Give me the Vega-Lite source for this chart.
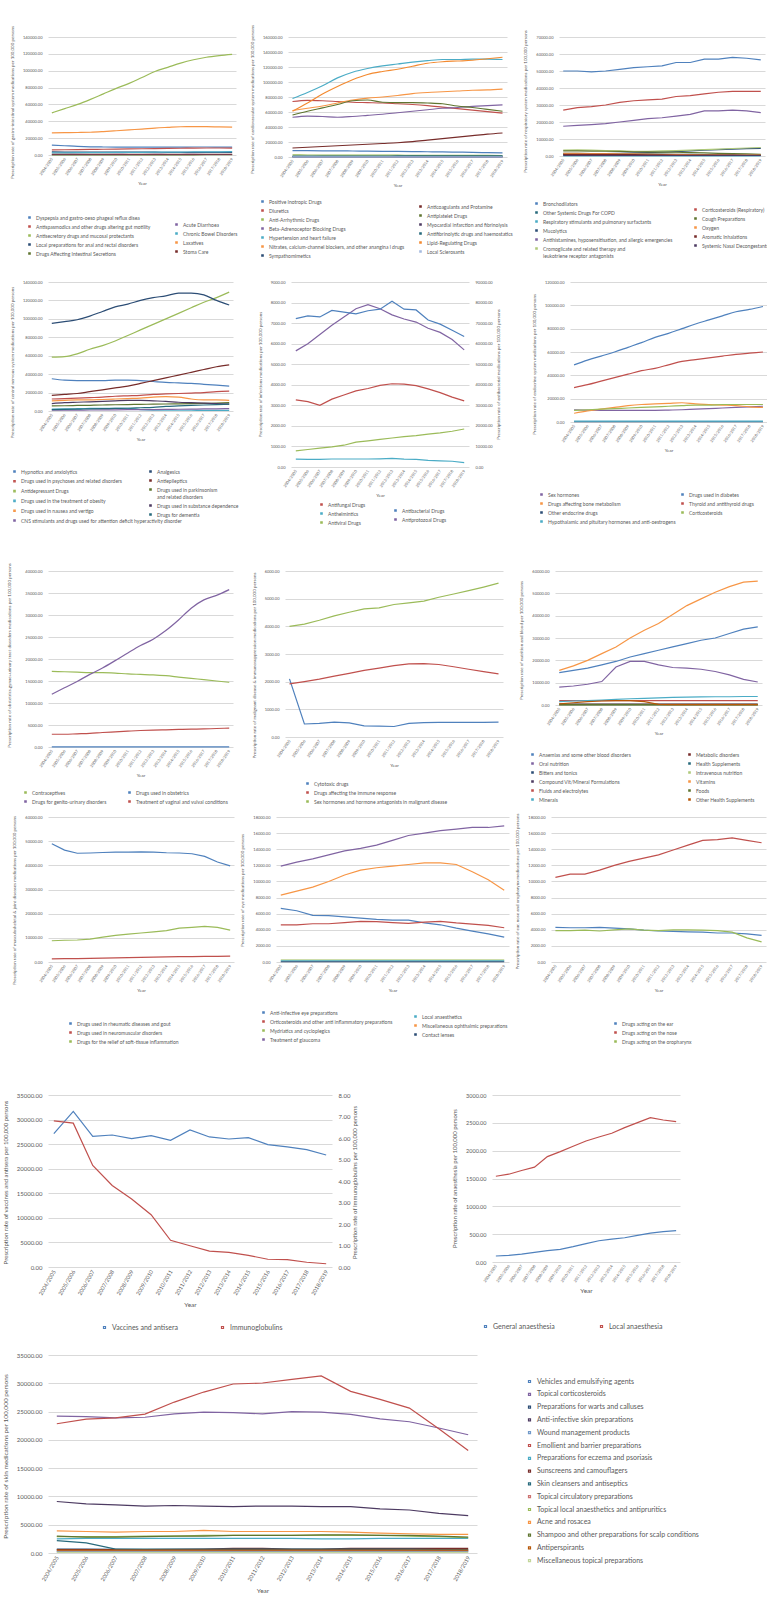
{
"$schema":"https://vega.github.io/schema/vega-lite/v6.json",
"background":"white",
"padding":{"left":2,"top":24,"right":0,"bottom":0},
"spacing":21,
"resolve":{"scale":{"color":"independent","stroke":"independent","x":"independent","y":"independent"}},
"config":{
 "font":"Lato",
 "view":{"stroke":null},
 "axis":{"labelFont":"Lato","labelFontSize":4,"labelColor":"#595959","titleFont":"Lato","titleFontSize":4.5,"titleFontWeight":"normal","titleColor":"#595959","ticks":false,"domain":false},
 "axisY":{"grid":true,"gridColor":"#D9D9D9","gridWidth":1.2,"labelPadding":6,"titlePadding":8},
 "axisX":{"grid":false,"labelAngle":-55,"labelPadding":3,"titlePadding":5},
 "legend":{"labelFont":"Lato","labelFontSize":5,"labelColor":"#595959","rowPadding":2,"symbolSize":2,"symbolStrokeWidth":3,"labelOffset":4,"padding":0,"labelLimit":400,"direction":"vertical"},
 "line":{"strokeWidth":1.2}
},
"datasets":{
"nm":[
{"k":"a1","n":"Dyspepsia and gastro-oeso  phageal reflux disea"},{"k":"a2","n":"Antispasmodics and other drugs altering gut motility"},{"k":"a3","n":"Antisecretory drugs and mucosal protectants"},{"k":"a4","n":"Local preparations for anal and rectal disorders"},{"k":"a5","n":"Drugs Affecting Intestinal Secretions"},{"k":"a6","n":"Acute Diarrhoea"},{"k":"a7","n":"Chronic Bowel Disorders"},{"k":"a8","n":"Laxatives"},{"k":"a9","n":"Stoma Care"},
{"k":"b1","n":"Positive Inotropic Drugs"},{"k":"b2","n":"Diuretics"},{"k":"b3","n":"Anti-Arrhythmic Drugs"},{"k":"b4","n":"Beta-Adrenoceptor Blocking Drugs"},{"k":"b5","n":"Hypertension and heart failure"},{"k":"b6","n":"Nitrates, calcium-channel blockers, and other anangina l drugs"},{"k":"b7","n":"Sympathomimetics"},{"k":"b8","n":"Anticoagulants and Protamine"},{"k":"b9","n":"Antiplatelet Drugs"},{"k":"b10","n":"Myocardial infarction and fibrinolysis"},{"k":"b11","n":"Antifibrinolytic drugs and haemostatics"},{"k":"b12","n":"Lipid-Regulating Drugs"},{"k":"b13","n":"Local Sclerosants"},
{"k":"c1","n":"Bronchodilators"},{"k":"c2","n":"Other Systemic Drugs For COPD"},{"k":"c3","n":"Respiratory stimulants and pulmonary surfactants"},{"k":"c4","n":"Mucolytics"},{"k":"c5","n":"Antihistamines, hyposensitisation, and allergic  emergencies"},{"k":"c6","n":"Cromoglicate and related therapy and leukotriene receptor antagonists"},{"k":"c7","n":"Corticosteroids (Respiratory)"},{"k":"c8","n":"Cough Preparations"},{"k":"c9","n":"Oxygen"},{"k":"c10","n":"Aromatic Inhalations"},{"k":"c11","n":"Systemic Nasal Decongestants"},
{"k":"d1","n":"Hypnotics and anxiolytics"},{"k":"d2","n":"Drugs used in psychoses and related disorders"},{"k":"d3","n":"Antidepressant Drugs"},{"k":"d4","n":"Drugs used in the treatment of obesity"},{"k":"d5","n":"Drugs used in nausea and vertigo"},{"k":"d6","n":"CNS stimulants and drugs used for attention deficit hyperactivity disorder"},{"k":"d7","n":"Analgesics"},{"k":"d8","n":"Antiepileptics"},{"k":"d9","n":"Drugs used in parkinsonism and related disorders"},{"k":"d10","n":"Drugs used in substance dependence"},{"k":"d11","n":"Drugs for dementia"},
{"k":"e1","n":"Antifungal Drugs"},{"k":"e2","n":"Anthelmintics"},{"k":"e3","n":"Antiviral Drugs"},{"k":"e4","n":"Antibacterial Drugs"},{"k":"e5","n":"Antiprotozoal Drugs"},
{"k":"f1","n":"Sex hormones"},{"k":"f2","n":"Drugs affecting bone metabolism"},{"k":"f3","n":"Other endocrine drugs"},{"k":"f4","n":"Hypothalamic and pituitary hormones and anti-oestrogens"},{"k":"f5","n":"Drugs used in diabetes"},{"k":"f6","n":"Thyroid and antithyroid drugs"},{"k":"f7","n":"Corticosteroids"},
{"k":"g1","n":"Contraceptives"},{"k":"g2","n":"Drugs for genito-urinary disorders"},{"k":"g3","n":"Drugs used in obstetrics"},{"k":"g4","n":"Treatment of vaginal and vulval conditions"},
{"k":"h1","n":"Cytotoxic drugs"},{"k":"h2","n":"Drugs affecting the immune response"},{"k":"h3","n":"Sex hormones and hormone antagonists in malignant disease"},
{"k":"i1","n":"Anaemias and some other blood disorders"},{"k":"i2","n":"Oral nutrition"},{"k":"i3","n":"Bitters and tonics"},{"k":"i4","n":"Compound Vit/Mineral Formulations"},{"k":"i5","n":"Fluids and electrolytes"},{"k":"i6","n":"Minerals"},{"k":"i7","n":"Metabolic disorders"},{"k":"i8","n":"Health Supplements"},{"k":"i9","n":"Intravenous nutrition"},{"k":"i10","n":"Vitamins"},{"k":"i11","n":"Foods"},{"k":"i12","n":"Other Health Supplements"},
{"k":"j1","n":"Drugs used in rheumatic diseases and gout"},{"k":"j2","n":"Drugs used in neuromuscular disorders"},{"k":"j3","n":"Drugs for the relief of soft-tissue inflammation"},
{"k":"k1","n":"Anti-infective eye preparations"},{"k":"k2","n":"Orticosteroids and other anti inflammatory preparations"},{"k":"k3","n":"Mydriatics and cycloplegics"},{"k":"k4","n":"Treatment of glaucoma"},{"k":"k5","n":"Local anaesthetics"},{"k":"k6","n":"Miscellaneous ophthalmic preparations"},{"k":"k7","n":"Contact lenses"},
{"k":"l1","n":"Drugs acting on the ear"},{"k":"l2","n":"Drugs acting on the nose"},{"k":"l3","n":"Drugs acting on the oropharynx"},
{"k":"m1","n":"Vaccines and antisera"},{"k":"m2","n":"Immunoglobulins"},
{"k":"n1","n":"General anaesthesia"},{"k":"n2","n":"Local anaesthesia"},
{"k":"o1","n":"Vehicles and emulsifying agents"},{"k":"o2","n":"Topical corticosteroids"},{"k":"o3","n":"Preparations for warts and calluses"},{"k":"o4","n":"Anti-infective skin preparations"},{"k":"o5","n":"Wound management products"},{"k":"o6","n":"Emollient and barrier preparations"},{"k":"o7","n":"Preparations for eczema and psoriasis"},{"k":"o8","n":"Sunscreens and camouflagers"},{"k":"o9","n":"Skin cleansers and antiseptics"},{"k":"o10","n":"Topical circulatory preparations"},{"k":"o11","n":"Topical local anaesthetics and antipruritics"},{"k":"o12","n":"Acne and rosacea"},{"k":"o13","n":"Shampoo and other preparations for scalp conditions"},{"k":"o14","n":"Antiperspirants"},{"k":"o15","n":"Miscellaneous topical preparations"}
],
"a":[
{"k":"a1","t":2004,"v":11800},{"k":"a1","t":2005,"v":11000},{"k":"a1","t":2006,"v":10200},{"k":"a1","t":2007,"v":9700},{"k":"a1","t":2008,"v":9500},{"k":"a1","t":2009,"v":9400},{"k":"a1","t":2010,"v":9300},{"k":"a1","t":2011,"v":9300},{"k":"a1","t":2012,"v":9300},{"k":"a1","t":2013,"v":9400},{"k":"a1","t":2014,"v":9400},{"k":"a1","t":2015,"v":9500},{"k":"a1","t":2016,"v":9500},{"k":"a1","t":2017,"v":9400},{"k":"a1","t":2018,"v":9300},
{"k":"a2","t":2004,"v":6000},{"k":"a2","t":2005,"v":6200},{"k":"a2","t":2006,"v":6400},{"k":"a2","t":2007,"v":6600},{"k":"a2","t":2008,"v":6800},{"k":"a2","t":2009,"v":7000},{"k":"a2","t":2010,"v":7200},{"k":"a2","t":2011,"v":7400},{"k":"a2","t":2012,"v":7600},{"k":"a2","t":2013,"v":7800},{"k":"a2","t":2014,"v":8000},{"k":"a2","t":2015,"v":8200},{"k":"a2","t":2016,"v":8300},{"k":"a2","t":2017,"v":8300},{"k":"a2","t":2018,"v":8200},
{"k":"a3","t":2004,"v":50000},{"k":"a3","t":2005,"v":55000},{"k":"a3","t":2006,"v":60000},{"k":"a3","t":2007,"v":66000},{"k":"a3","t":2008,"v":72500},{"k":"a3","t":2009,"v":79000},{"k":"a3","t":2010,"v":85000},{"k":"a3","t":2011,"v":92000},{"k":"a3","t":2012,"v":99000},{"k":"a3","t":2013,"v":104000},{"k":"a3","t":2014,"v":109000},{"k":"a3","t":2015,"v":113000},{"k":"a3","t":2016,"v":116000},{"k":"a3","t":2017,"v":118000},{"k":"a3","t":2018,"v":119500},
{"k":"a4","t":2004,"v":3600},{"k":"a4","t":2005,"v":3500},{"k":"a4","t":2006,"v":3500},{"k":"a4","t":2007,"v":3400},{"k":"a4","t":2008,"v":3400},{"k":"a4","t":2009,"v":3400},{"k":"a4","t":2010,"v":3300},{"k":"a4","t":2011,"v":3300},{"k":"a4","t":2012,"v":3300},{"k":"a4","t":2013,"v":3200},{"k":"a4","t":2014,"v":3200},{"k":"a4","t":2015,"v":3200},{"k":"a4","t":2016,"v":3100},{"k":"a4","t":2017,"v":3100},{"k":"a4","t":2018,"v":3000},
{"k":"a5","t":2004,"v":150},{"k":"a5","t":2005,"v":150},{"k":"a5","t":2006,"v":150},{"k":"a5","t":2007,"v":150},{"k":"a5","t":2008,"v":150},{"k":"a5","t":2009,"v":150},{"k":"a5","t":2010,"v":150},{"k":"a5","t":2011,"v":160},{"k":"a5","t":2012,"v":170},{"k":"a5","t":2013,"v":180},{"k":"a5","t":2014,"v":200},{"k":"a5","t":2015,"v":250},{"k":"a5","t":2016,"v":300},{"k":"a5","t":2017,"v":350},{"k":"a5","t":2018,"v":400},
{"k":"a6","t":2004,"v":600},{"k":"a6","t":2005,"v":600},{"k":"a6","t":2006,"v":650},{"k":"a6","t":2007,"v":600},{"k":"a6","t":2008,"v":600},{"k":"a6","t":2009,"v":650},{"k":"a6","t":2010,"v":600},{"k":"a6","t":2011,"v":600},{"k":"a6","t":2012,"v":650},{"k":"a6","t":2013,"v":600},{"k":"a6","t":2014,"v":600},{"k":"a6","t":2015,"v":650},{"k":"a6","t":2016,"v":600},{"k":"a6","t":2017,"v":600},{"k":"a6","t":2018,"v":600},
{"k":"a7","t":2004,"v":2500},{"k":"a7","t":2005,"v":2600},{"k":"a7","t":2006,"v":2700},{"k":"a7","t":2007,"v":2800},{"k":"a7","t":2008,"v":2900},{"k":"a7","t":2009,"v":3000},{"k":"a7","t":2010,"v":3100},{"k":"a7","t":2011,"v":3200},{"k":"a7","t":2012,"v":3300},{"k":"a7","t":2013,"v":3400},{"k":"a7","t":2014,"v":3500},{"k":"a7","t":2015,"v":3600},{"k":"a7","t":2016,"v":3700},{"k":"a7","t":2017,"v":3800},{"k":"a7","t":2018,"v":3900},
{"k":"a8","t":2004,"v":26300},{"k":"a8","t":2005,"v":26500},{"k":"a8","t":2006,"v":26700},{"k":"a8","t":2007,"v":27000},{"k":"a8","t":2008,"v":27800},{"k":"a8","t":2009,"v":28800},{"k":"a8","t":2010,"v":29800},{"k":"a8","t":2011,"v":30800},{"k":"a8","t":2012,"v":32000},{"k":"a8","t":2013,"v":32800},{"k":"a8","t":2014,"v":33500},{"k":"a8","t":2015,"v":33600},{"k":"a8","t":2016,"v":33700},{"k":"a8","t":2017,"v":33300},{"k":"a8","t":2018,"v":33000},
{"k":"a9","t":2004,"v":900},{"k":"a9","t":2005,"v":900},{"k":"a9","t":2006,"v":900},{"k":"a9","t":2007,"v":900},{"k":"a9","t":2008,"v":900},{"k":"a9","t":2009,"v":900},{"k":"a9","t":2010,"v":900},{"k":"a9","t":2011,"v":900},{"k":"a9","t":2012,"v":900},{"k":"a9","t":2013,"v":900},{"k":"a9","t":2014,"v":900},{"k":"a9","t":2015,"v":900},{"k":"a9","t":2016,"v":900},{"k":"a9","t":2017,"v":900},{"k":"a9","t":2018,"v":900}
],
"b":[
{"k":"b1","t":2004,"v":8500},{"k":"b1","t":2005,"v":8400},{"k":"b1","t":2006,"v":8300},{"k":"b1","t":2007,"v":8200},{"k":"b1","t":2008,"v":8000},{"k":"b1","t":2009,"v":7800},{"k":"b1","t":2010,"v":7600},{"k":"b1","t":2011,"v":7400},{"k":"b1","t":2012,"v":7200},{"k":"b1","t":2013,"v":7000},{"k":"b1","t":2014,"v":6800},{"k":"b1","t":2015,"v":6500},{"k":"b1","t":2016,"v":6200},{"k":"b1","t":2017,"v":5800},{"k":"b1","t":2018,"v":5400},
{"k":"b2","t":2004,"v":74000},{"k":"b2","t":2005,"v":75500},{"k":"b2","t":2006,"v":75000},{"k":"b2","t":2007,"v":74000},{"k":"b2","t":2008,"v":73000},{"k":"b2","t":2009,"v":72500},{"k":"b2","t":2010,"v":72000},{"k":"b2","t":2011,"v":71000},{"k":"b2","t":2012,"v":70000},{"k":"b2","t":2013,"v":68500},{"k":"b2","t":2014,"v":66500},{"k":"b2","t":2015,"v":64500},{"k":"b2","t":2016,"v":62500},{"k":"b2","t":2017,"v":60500},{"k":"b2","t":2018,"v":58500},
{"k":"b3","t":2004,"v":2800},{"k":"b3","t":2005,"v":2700},{"k":"b3","t":2006,"v":2600},{"k":"b3","t":2007,"v":2600},{"k":"b3","t":2008,"v":2500},{"k":"b3","t":2009,"v":2500},{"k":"b3","t":2010,"v":2400},{"k":"b3","t":2011,"v":2400},{"k":"b3","t":2012,"v":2300},{"k":"b3","t":2013,"v":2300},{"k":"b3","t":2014,"v":2200},{"k":"b3","t":2015,"v":2200},{"k":"b3","t":2016,"v":2100},{"k":"b3","t":2017,"v":2100},{"k":"b3","t":2018,"v":2000},
{"k":"b4","t":2004,"v":53000},{"k":"b4","t":2005,"v":54500},{"k":"b4","t":2006,"v":54000},{"k":"b4","t":2007,"v":53000},{"k":"b4","t":2008,"v":54000},{"k":"b4","t":2009,"v":55500},{"k":"b4","t":2010,"v":57000},{"k":"b4","t":2011,"v":59000},{"k":"b4","t":2012,"v":61000},{"k":"b4","t":2013,"v":63000},{"k":"b4","t":2014,"v":65000},{"k":"b4","t":2015,"v":66000},{"k":"b4","t":2016,"v":67500},{"k":"b4","t":2017,"v":68500},{"k":"b4","t":2018,"v":69500},
{"k":"b5","t":2004,"v":78000},{"k":"b5","t":2005,"v":86000},{"k":"b5","t":2006,"v":95000},{"k":"b5","t":2007,"v":105500},{"k":"b5","t":2008,"v":113000},{"k":"b5","t":2009,"v":118000},{"k":"b5","t":2010,"v":121500},{"k":"b5","t":2011,"v":124000},{"k":"b5","t":2012,"v":126500},{"k":"b5","t":2013,"v":128500},{"k":"b5","t":2014,"v":130000},{"k":"b5","t":2015,"v":130000},{"k":"b5","t":2016,"v":130500},{"k":"b5","t":2017,"v":130500},{"k":"b5","t":2018,"v":130000},
{"k":"b6","t":2004,"v":62000},{"k":"b6","t":2005,"v":65000},{"k":"b6","t":2006,"v":68000},{"k":"b6","t":2007,"v":72000},{"k":"b6","t":2008,"v":76000},{"k":"b6","t":2009,"v":78500},{"k":"b6","t":2010,"v":80000},{"k":"b6","t":2011,"v":82000},{"k":"b6","t":2012,"v":84500},{"k":"b6","t":2013,"v":86000},{"k":"b6","t":2014,"v":87000},{"k":"b6","t":2015,"v":88000},{"k":"b6","t":2016,"v":89000},{"k":"b6","t":2017,"v":89500},{"k":"b6","t":2018,"v":90500},
{"k":"b7","t":2004,"v":400},{"k":"b7","t":2005,"v":400},{"k":"b7","t":2006,"v":400},{"k":"b7","t":2007,"v":400},{"k":"b7","t":2008,"v":400},{"k":"b7","t":2009,"v":400},{"k":"b7","t":2010,"v":400},{"k":"b7","t":2011,"v":400},{"k":"b7","t":2012,"v":400},{"k":"b7","t":2013,"v":400},{"k":"b7","t":2014,"v":400},{"k":"b7","t":2015,"v":400},{"k":"b7","t":2016,"v":400},{"k":"b7","t":2017,"v":400},{"k":"b7","t":2018,"v":400},
{"k":"b8","t":2004,"v":12000},{"k":"b8","t":2005,"v":13000},{"k":"b8","t":2006,"v":14000},{"k":"b8","t":2007,"v":15000},{"k":"b8","t":2008,"v":16000},{"k":"b8","t":2009,"v":17000},{"k":"b8","t":2010,"v":18000},{"k":"b8","t":2011,"v":19000},{"k":"b8","t":2012,"v":20500},{"k":"b8","t":2013,"v":22500},{"k":"b8","t":2014,"v":24500},{"k":"b8","t":2015,"v":26500},{"k":"b8","t":2016,"v":28500},{"k":"b8","t":2017,"v":30500},{"k":"b8","t":2018,"v":32000},
{"k":"b9","t":2004,"v":56000},{"k":"b9","t":2005,"v":61000},{"k":"b9","t":2006,"v":65500},{"k":"b9","t":2007,"v":70000},{"k":"b9","t":2008,"v":75000},{"k":"b9","t":2009,"v":76000},{"k":"b9","t":2010,"v":73000},{"k":"b9","t":2011,"v":72500},{"k":"b9","t":2012,"v":72500},{"k":"b9","t":2013,"v":72000},{"k":"b9","t":2014,"v":71000},{"k":"b9","t":2015,"v":68000},{"k":"b9","t":2016,"v":66000},{"k":"b9","t":2017,"v":63500},{"k":"b9","t":2018,"v":61000},
{"k":"b10","t":2004,"v":100},{"k":"b10","t":2005,"v":100},{"k":"b10","t":2006,"v":100},{"k":"b10","t":2007,"v":100},{"k":"b10","t":2008,"v":100},{"k":"b10","t":2009,"v":100},{"k":"b10","t":2010,"v":100},{"k":"b10","t":2011,"v":100},{"k":"b10","t":2012,"v":100},{"k":"b10","t":2013,"v":100},{"k":"b10","t":2014,"v":100},{"k":"b10","t":2015,"v":100},{"k":"b10","t":2016,"v":100},{"k":"b10","t":2017,"v":100},{"k":"b10","t":2018,"v":100},
{"k":"b11","t":2004,"v":1200},{"k":"b11","t":2005,"v":1200},{"k":"b11","t":2006,"v":1200},{"k":"b11","t":2007,"v":1300},{"k":"b11","t":2008,"v":1300},{"k":"b11","t":2009,"v":1300},{"k":"b11","t":2010,"v":1300},{"k":"b11","t":2011,"v":1400},{"k":"b11","t":2012,"v":1400},{"k":"b11","t":2013,"v":1400},{"k":"b11","t":2014,"v":1400},{"k":"b11","t":2015,"v":1500},{"k":"b11","t":2016,"v":1500},{"k":"b11","t":2017,"v":1500},{"k":"b11","t":2018,"v":1500},
{"k":"b12","t":2004,"v":61000},{"k":"b12","t":2005,"v":72000},{"k":"b12","t":2006,"v":84000},{"k":"b12","t":2007,"v":94000},{"k":"b12","t":2008,"v":103000},{"k":"b12","t":2009,"v":110000},{"k":"b12","t":2010,"v":114000},{"k":"b12","t":2011,"v":117000},{"k":"b12","t":2012,"v":121000},{"k":"b12","t":2013,"v":125000},{"k":"b12","t":2014,"v":127000},{"k":"b12","t":2015,"v":128000},{"k":"b12","t":2016,"v":129000},{"k":"b12","t":2017,"v":131000},{"k":"b12","t":2018,"v":133000},
{"k":"b13","t":2004,"v":50},{"k":"b13","t":2005,"v":50},{"k":"b13","t":2006,"v":50},{"k":"b13","t":2007,"v":50},{"k":"b13","t":2008,"v":50},{"k":"b13","t":2009,"v":50},{"k":"b13","t":2010,"v":50},{"k":"b13","t":2011,"v":50},{"k":"b13","t":2012,"v":50},{"k":"b13","t":2013,"v":50},{"k":"b13","t":2014,"v":50},{"k":"b13","t":2015,"v":50},{"k":"b13","t":2016,"v":50},{"k":"b13","t":2017,"v":50},{"k":"b13","t":2018,"v":50}
],
"c":[
{"k":"c1","t":2004,"v":50000},{"k":"c1","t":2005,"v":50000},{"k":"c1","t":2006,"v":49500},{"k":"c1","t":2007,"v":50000},{"k":"c1","t":2008,"v":51000},{"k":"c1","t":2009,"v":52000},{"k":"c1","t":2010,"v":52500},{"k":"c1","t":2011,"v":53000},{"k":"c1","t":2012,"v":55000},{"k":"c1","t":2013,"v":55000},{"k":"c1","t":2014,"v":57000},{"k":"c1","t":2015,"v":57000},{"k":"c1","t":2016,"v":58000},{"k":"c1","t":2017,"v":57500},{"k":"c1","t":2018,"v":56500},
{"k":"c2","t":2004,"v":1500},{"k":"c2","t":2005,"v":1500},{"k":"c2","t":2006,"v":1400},{"k":"c2","t":2007,"v":1400},{"k":"c2","t":2008,"v":1300},{"k":"c2","t":2009,"v":1300},{"k":"c2","t":2010,"v":1200},{"k":"c2","t":2011,"v":1100},{"k":"c2","t":2012,"v":1000},{"k":"c2","t":2013,"v":900},{"k":"c2","t":2014,"v":800},{"k":"c2","t":2015,"v":700},{"k":"c2","t":2016,"v":700},{"k":"c2","t":2017,"v":600},{"k":"c2","t":2018,"v":600},
{"k":"c3","t":2004,"v":30},{"k":"c3","t":2005,"v":30},{"k":"c3","t":2006,"v":30},{"k":"c3","t":2007,"v":30},{"k":"c3","t":2008,"v":30},{"k":"c3","t":2009,"v":30},{"k":"c3","t":2010,"v":30},{"k":"c3","t":2011,"v":30},{"k":"c3","t":2012,"v":30},{"k":"c3","t":2013,"v":30},{"k":"c3","t":2014,"v":30},{"k":"c3","t":2015,"v":30},{"k":"c3","t":2016,"v":30},{"k":"c3","t":2017,"v":30},{"k":"c3","t":2018,"v":30},
{"k":"c4","t":2004,"v":800},{"k":"c4","t":2005,"v":1000},{"k":"c4","t":2006,"v":1200},{"k":"c4","t":2007,"v":1400},{"k":"c4","t":2008,"v":1600},{"k":"c4","t":2009,"v":1800},{"k":"c4","t":2010,"v":2000},{"k":"c4","t":2011,"v":2300},{"k":"c4","t":2012,"v":2600},{"k":"c4","t":2013,"v":3000},{"k":"c4","t":2014,"v":3400},{"k":"c4","t":2015,"v":3800},{"k":"c4","t":2016,"v":4100},{"k":"c4","t":2017,"v":4300},{"k":"c4","t":2018,"v":4500},
{"k":"c5","t":2004,"v":17500},{"k":"c5","t":2005,"v":18000},{"k":"c5","t":2006,"v":18500},{"k":"c5","t":2007,"v":19000},{"k":"c5","t":2008,"v":20000},{"k":"c5","t":2009,"v":21000},{"k":"c5","t":2010,"v":22000},{"k":"c5","t":2011,"v":22500},{"k":"c5","t":2012,"v":23500},{"k":"c5","t":2013,"v":24500},{"k":"c5","t":2014,"v":26500},{"k":"c5","t":2015,"v":26500},{"k":"c5","t":2016,"v":27000},{"k":"c5","t":2017,"v":26500},{"k":"c5","t":2018,"v":25500},
{"k":"c6","t":2004,"v":3500},{"k":"c6","t":2005,"v":3600},{"k":"c6","t":2006,"v":3400},{"k":"c6","t":2007,"v":3200},{"k":"c6","t":2008,"v":3000},{"k":"c6","t":2009,"v":2800},{"k":"c6","t":2010,"v":2800},{"k":"c6","t":2011,"v":3000},{"k":"c6","t":2012,"v":3200},{"k":"c6","t":2013,"v":3500},{"k":"c6","t":2014,"v":3800},{"k":"c6","t":2015,"v":4100},{"k":"c6","t":2016,"v":4400},{"k":"c6","t":2017,"v":4700},{"k":"c6","t":2018,"v":5000},
{"k":"c7","t":2004,"v":27000},{"k":"c7","t":2005,"v":28500},{"k":"c7","t":2006,"v":29000},{"k":"c7","t":2007,"v":30000},{"k":"c7","t":2008,"v":31500},{"k":"c7","t":2009,"v":32500},{"k":"c7","t":2010,"v":33000},{"k":"c7","t":2011,"v":33500},{"k":"c7","t":2012,"v":35000},{"k":"c7","t":2013,"v":35500},{"k":"c7","t":2014,"v":36500},{"k":"c7","t":2015,"v":37500},{"k":"c7","t":2016,"v":38000},{"k":"c7","t":2017,"v":38000},{"k":"c7","t":2018,"v":38000},
{"k":"c8","t":2004,"v":3000},{"k":"c8","t":2005,"v":3000},{"k":"c8","t":2006,"v":2900},{"k":"c8","t":2007,"v":2800},{"k":"c8","t":2008,"v":2700},{"k":"c8","t":2009,"v":2500},{"k":"c8","t":2010,"v":2400},{"k":"c8","t":2011,"v":2300},{"k":"c8","t":2012,"v":2200},{"k":"c8","t":2013,"v":2000},{"k":"c8","t":2014,"v":1800},{"k":"c8","t":2015,"v":1600},{"k":"c8","t":2016,"v":1400},{"k":"c8","t":2017,"v":1200},{"k":"c8","t":2018,"v":1000},
{"k":"c9","t":2004,"v":1500},{"k":"c9","t":2005,"v":1500},{"k":"c9","t":2006,"v":1400},{"k":"c9","t":2007,"v":1400},{"k":"c9","t":2008,"v":1300},{"k":"c9","t":2009,"v":1200},{"k":"c9","t":2010,"v":1100},{"k":"c9","t":2011,"v":1000},{"k":"c9","t":2012,"v":900},{"k":"c9","t":2013,"v":800},{"k":"c9","t":2014,"v":700},{"k":"c9","t":2015,"v":700},{"k":"c9","t":2016,"v":600},{"k":"c9","t":2017,"v":600},{"k":"c9","t":2018,"v":500},
{"k":"c10","t":2004,"v":1000},{"k":"c10","t":2005,"v":1000},{"k":"c10","t":2006,"v":900},{"k":"c10","t":2007,"v":900},{"k":"c10","t":2008,"v":800},{"k":"c10","t":2009,"v":800},{"k":"c10","t":2010,"v":700},{"k":"c10","t":2011,"v":700},{"k":"c10","t":2012,"v":600},{"k":"c10","t":2013,"v":600},{"k":"c10","t":2014,"v":500},{"k":"c10","t":2015,"v":500},{"k":"c10","t":2016,"v":500},{"k":"c10","t":2017,"v":400},{"k":"c10","t":2018,"v":400},
{"k":"c11","t":2004,"v":300},{"k":"c11","t":2005,"v":300},{"k":"c11","t":2006,"v":300},{"k":"c11","t":2007,"v":300},{"k":"c11","t":2008,"v":300},{"k":"c11","t":2009,"v":300},{"k":"c11","t":2010,"v":300},{"k":"c11","t":2011,"v":300},{"k":"c11","t":2012,"v":300},{"k":"c11","t":2013,"v":300},{"k":"c11","t":2014,"v":300},{"k":"c11","t":2015,"v":300},{"k":"c11","t":2016,"v":300},{"k":"c11","t":2017,"v":300},{"k":"c11","t":2018,"v":300}
],
"d":[
{"k":"d1","t":2004,"v":35000},{"k":"d1","t":2005,"v":33500},{"k":"d1","t":2006,"v":33000},{"k":"d1","t":2007,"v":33000},{"k":"d1","t":2008,"v":33000},{"k":"d1","t":2009,"v":33500},{"k":"d1","t":2010,"v":33500},{"k":"d1","t":2011,"v":33000},{"k":"d1","t":2012,"v":32000},{"k":"d1","t":2013,"v":31000},{"k":"d1","t":2014,"v":30500},{"k":"d1","t":2015,"v":30000},{"k":"d1","t":2016,"v":29000},{"k":"d1","t":2017,"v":28000},{"k":"d1","t":2018,"v":27000},
{"k":"d2","t":2004,"v":13000},{"k":"d2","t":2005,"v":13500},{"k":"d2","t":2006,"v":14000},{"k":"d2","t":2007,"v":14500},{"k":"d2","t":2008,"v":15000},{"k":"d2","t":2009,"v":16000},{"k":"d2","t":2010,"v":16500},{"k":"d2","t":2011,"v":17000},{"k":"d2","t":2012,"v":18000},{"k":"d2","t":2013,"v":18500},{"k":"d2","t":2014,"v":19000},{"k":"d2","t":2015,"v":19500},{"k":"d2","t":2016,"v":20000},{"k":"d2","t":2017,"v":21000},{"k":"d2","t":2018,"v":21500},
{"k":"d3","t":2004,"v":58500},{"k":"d3","t":2005,"v":59000},{"k":"d3","t":2006,"v":62000},{"k":"d3","t":2007,"v":67000},{"k":"d3","t":2008,"v":71000},{"k":"d3","t":2009,"v":76000},{"k":"d3","t":2010,"v":82000},{"k":"d3","t":2011,"v":88000},{"k":"d3","t":2012,"v":94000},{"k":"d3","t":2013,"v":100000},{"k":"d3","t":2014,"v":106000},{"k":"d3","t":2015,"v":112000},{"k":"d3","t":2016,"v":118000},{"k":"d3","t":2017,"v":123000},{"k":"d3","t":2018,"v":129000},
{"k":"d4","t":2004,"v":2000},{"k":"d4","t":2005,"v":2200},{"k":"d4","t":2006,"v":2500},{"k":"d4","t":2007,"v":2800},{"k":"d4","t":2008,"v":3000},{"k":"d4","t":2009,"v":3000},{"k":"d4","t":2010,"v":3000},{"k":"d4","t":2011,"v":1500},{"k":"d4","t":2012,"v":1000},{"k":"d4","t":2013,"v":900},{"k":"d4","t":2014,"v":800},{"k":"d4","t":2015,"v":800},{"k":"d4","t":2016,"v":700},{"k":"d4","t":2017,"v":700},{"k":"d4","t":2018,"v":600},
{"k":"d5","t":2004,"v":11000},{"k":"d5","t":2005,"v":11500},{"k":"d5","t":2006,"v":12000},{"k":"d5","t":2007,"v":12000},{"k":"d5","t":2008,"v":12500},{"k":"d5","t":2009,"v":13000},{"k":"d5","t":2010,"v":13500},{"k":"d5","t":2011,"v":14000},{"k":"d5","t":2012,"v":15000},{"k":"d5","t":2013,"v":15500},{"k":"d5","t":2014,"v":15000},{"k":"d5","t":2015,"v":13000},{"k":"d5","t":2016,"v":12000},{"k":"d5","t":2017,"v":12000},{"k":"d5","t":2018,"v":11500},
{"k":"d6","t":2004,"v":800},{"k":"d6","t":2005,"v":900},{"k":"d6","t":2006,"v":1000},{"k":"d6","t":2007,"v":1100},{"k":"d6","t":2008,"v":1200},{"k":"d6","t":2009,"v":1300},{"k":"d6","t":2010,"v":1400},{"k":"d6","t":2011,"v":1500},{"k":"d6","t":2012,"v":1600},{"k":"d6","t":2013,"v":1700},{"k":"d6","t":2014,"v":1900},{"k":"d6","t":2015,"v":2000},{"k":"d6","t":2016,"v":2200},{"k":"d6","t":2017,"v":2400},{"k":"d6","t":2018,"v":2600},
{"k":"d7","t":2004,"v":95000},{"k":"d7","t":2005,"v":97000},{"k":"d7","t":2006,"v":99000},{"k":"d7","t":2007,"v":103000},{"k":"d7","t":2008,"v":108000},{"k":"d7","t":2009,"v":113000},{"k":"d7","t":2010,"v":116000},{"k":"d7","t":2011,"v":120000},{"k":"d7","t":2012,"v":123000},{"k":"d7","t":2013,"v":125000},{"k":"d7","t":2014,"v":128000},{"k":"d7","t":2015,"v":128000},{"k":"d7","t":2016,"v":126000},{"k":"d7","t":2017,"v":120000},{"k":"d7","t":2018,"v":115000},
{"k":"d8","t":2004,"v":17000},{"k":"d8","t":2005,"v":18000},{"k":"d8","t":2006,"v":19000},{"k":"d8","t":2007,"v":21000},{"k":"d8","t":2008,"v":23000},{"k":"d8","t":2009,"v":25000},{"k":"d8","t":2010,"v":27000},{"k":"d8","t":2011,"v":30000},{"k":"d8","t":2012,"v":33000},{"k":"d8","t":2013,"v":36000},{"k":"d8","t":2014,"v":39000},{"k":"d8","t":2015,"v":42000},{"k":"d8","t":2016,"v":45000},{"k":"d8","t":2017,"v":48000},{"k":"d8","t":2018,"v":50000},
{"k":"d9","t":2004,"v":5500},{"k":"d9","t":2005,"v":5700},{"k":"d9","t":2006,"v":6000},{"k":"d9","t":2007,"v":6200},{"k":"d9","t":2008,"v":6500},{"k":"d9","t":2009,"v":6800},{"k":"d9","t":2010,"v":7000},{"k":"d9","t":2011,"v":7200},{"k":"d9","t":2012,"v":7400},{"k":"d9","t":2013,"v":7600},{"k":"d9","t":2014,"v":7800},{"k":"d9","t":2015,"v":8000},{"k":"d9","t":2016,"v":8200},{"k":"d9","t":2017,"v":8500},{"k":"d9","t":2018,"v":9000},
{"k":"d10","t":2004,"v":8000},{"k":"d10","t":2005,"v":9000},{"k":"d10","t":2006,"v":9500},{"k":"d10","t":2007,"v":10000},{"k":"d10","t":2008,"v":10500},{"k":"d10","t":2009,"v":11000},{"k":"d10","t":2010,"v":11500},{"k":"d10","t":2011,"v":11500},{"k":"d10","t":2012,"v":11000},{"k":"d10","t":2013,"v":10500},{"k":"d10","t":2014,"v":9500},{"k":"d10","t":2015,"v":9000},{"k":"d10","t":2016,"v":8500},{"k":"d10","t":2017,"v":8000},{"k":"d10","t":2018,"v":7500},
{"k":"d11","t":2004,"v":1500},{"k":"d11","t":2005,"v":1800},{"k":"d11","t":2006,"v":2000},{"k":"d11","t":2007,"v":2300},{"k":"d11","t":2008,"v":2500},{"k":"d11","t":2009,"v":2800},{"k":"d11","t":2010,"v":3000},{"k":"d11","t":2011,"v":3500},{"k":"d11","t":2012,"v":4000},{"k":"d11","t":2013,"v":5000},{"k":"d11","t":2014,"v":5500},{"k":"d11","t":2015,"v":6000},{"k":"d11","t":2016,"v":6500},{"k":"d11","t":2017,"v":7000},{"k":"d11","t":2018,"v":7500}
],
"e":[
{"k":"e1","t":2004,"v":3270},{"k":"e1","t":2005,"v":3180},{"k":"e1","t":2006,"v":3000},{"k":"e1","t":2007,"v":3300},{"k":"e1","t":2008,"v":3500},{"k":"e1","t":2009,"v":3700},{"k":"e1","t":2010,"v":3820},{"k":"e1","t":2011,"v":3970},{"k":"e1","t":2012,"v":4050},{"k":"e1","t":2013,"v":4030},{"k":"e1","t":2014,"v":3960},{"k":"e1","t":2015,"v":3800},{"k":"e1","t":2016,"v":3620},{"k":"e1","t":2017,"v":3400},{"k":"e1","t":2018,"v":3220},
{"k":"e2","t":2004,"v":380},{"k":"e2","t":2005,"v":370},{"k":"e2","t":2006,"v":370},{"k":"e2","t":2007,"v":390},{"k":"e2","t":2008,"v":390},{"k":"e2","t":2009,"v":390},{"k":"e2","t":2010,"v":390},{"k":"e2","t":2011,"v":400},{"k":"e2","t":2012,"v":420},{"k":"e2","t":2013,"v":380},{"k":"e2","t":2014,"v":370},{"k":"e2","t":2015,"v":320},{"k":"e2","t":2016,"v":300},{"k":"e2","t":2017,"v":280},{"k":"e2","t":2018,"v":210},
{"k":"e3","t":2004,"v":780},{"k":"e3","t":2005,"v":850},{"k":"e3","t":2006,"v":920},{"k":"e3","t":2007,"v":980},{"k":"e3","t":2008,"v":1060},{"k":"e3","t":2009,"v":1210},{"k":"e3","t":2010,"v":1270},{"k":"e3","t":2011,"v":1340},{"k":"e3","t":2012,"v":1410},{"k":"e3","t":2013,"v":1480},{"k":"e3","t":2014,"v":1530},{"k":"e3","t":2015,"v":1600},{"k":"e3","t":2016,"v":1660},{"k":"e3","t":2017,"v":1740},{"k":"e3","t":2018,"v":1850},
{"k":"e4","t":2004,"v":72200},{"k":"e4","t":2005,"v":73500},{"k":"e4","t":2006,"v":73000},{"k":"e4","t":2007,"v":76200},{"k":"e4","t":2008,"v":75300},{"k":"e4","t":2009,"v":74500},{"k":"e4","t":2010,"v":76000},{"k":"e4","t":2011,"v":76800},{"k":"e4","t":2012,"v":80600},{"k":"e4","t":2013,"v":76800},{"k":"e4","t":2014,"v":76400},{"k":"e4","t":2015,"v":71500},{"k":"e4","t":2016,"v":69500},{"k":"e4","t":2017,"v":66500},{"k":"e4","t":2018,"v":63500},
{"k":"e5","t":2004,"v":5650},{"k":"e5","t":2005,"v":6000},{"k":"e5","t":2006,"v":6450},{"k":"e5","t":2007,"v":6900},{"k":"e5","t":2008,"v":7300},{"k":"e5","t":2009,"v":7700},{"k":"e5","t":2010,"v":7900},{"k":"e5","t":2011,"v":7700},{"k":"e5","t":2012,"v":7400},{"k":"e5","t":2013,"v":7200},{"k":"e5","t":2014,"v":7050},{"k":"e5","t":2015,"v":6750},{"k":"e5","t":2016,"v":6550},{"k":"e5","t":2017,"v":6200},{"k":"e5","t":2018,"v":5700}
],
"f":[
{"k":"f1","t":2004,"v":10500},{"k":"f1","t":2005,"v":10200},{"k":"f1","t":2006,"v":10000},{"k":"f1","t":2007,"v":10000},{"k":"f1","t":2008,"v":10000},{"k":"f1","t":2009,"v":10000},{"k":"f1","t":2010,"v":10000},{"k":"f1","t":2011,"v":10200},{"k":"f1","t":2012,"v":10500},{"k":"f1","t":2013,"v":11000},{"k":"f1","t":2014,"v":11500},{"k":"f1","t":2015,"v":12000},{"k":"f1","t":2016,"v":12500},{"k":"f1","t":2017,"v":13000},{"k":"f1","t":2018,"v":13500},
{"k":"f2","t":2004,"v":7500},{"k":"f2","t":2005,"v":9500},{"k":"f2","t":2006,"v":11000},{"k":"f2","t":2007,"v":12500},{"k":"f2","t":2008,"v":14000},{"k":"f2","t":2009,"v":15000},{"k":"f2","t":2010,"v":15500},{"k":"f2","t":2011,"v":16000},{"k":"f2","t":2012,"v":16500},{"k":"f2","t":2013,"v":15500},{"k":"f2","t":2014,"v":15000},{"k":"f2","t":2015,"v":14500},{"k":"f2","t":2016,"v":14000},{"k":"f2","t":2017,"v":13000},{"k":"f2","t":2018,"v":12500},
{"k":"f3","t":2004,"v":200},{"k":"f3","t":2005,"v":200},{"k":"f3","t":2006,"v":200},{"k":"f3","t":2007,"v":200},{"k":"f3","t":2008,"v":200},{"k":"f3","t":2009,"v":200},{"k":"f3","t":2010,"v":200},{"k":"f3","t":2011,"v":200},{"k":"f3","t":2012,"v":200},{"k":"f3","t":2013,"v":200},{"k":"f3","t":2014,"v":200},{"k":"f3","t":2015,"v":200},{"k":"f3","t":2016,"v":200},{"k":"f3","t":2017,"v":200},{"k":"f3","t":2018,"v":200},
{"k":"f4","t":2004,"v":700},{"k":"f4","t":2005,"v":700},{"k":"f4","t":2006,"v":700},{"k":"f4","t":2007,"v":700},{"k":"f4","t":2008,"v":700},{"k":"f4","t":2009,"v":700},{"k":"f4","t":2010,"v":700},{"k":"f4","t":2011,"v":700},{"k":"f4","t":2012,"v":700},{"k":"f4","t":2013,"v":700},{"k":"f4","t":2014,"v":700},{"k":"f4","t":2015,"v":700},{"k":"f4","t":2016,"v":700},{"k":"f4","t":2017,"v":700},{"k":"f4","t":2018,"v":700},
{"k":"f5","t":2004,"v":49000},{"k":"f5","t":2005,"v":53000},{"k":"f5","t":2006,"v":56500},{"k":"f5","t":2007,"v":60000},{"k":"f5","t":2008,"v":64000},{"k":"f5","t":2009,"v":68000},{"k":"f5","t":2010,"v":72500},{"k":"f5","t":2011,"v":76000},{"k":"f5","t":2012,"v":80000},{"k":"f5","t":2013,"v":84000},{"k":"f5","t":2014,"v":87500},{"k":"f5","t":2015,"v":91000},{"k":"f5","t":2016,"v":94500},{"k":"f5","t":2017,"v":96500},{"k":"f5","t":2018,"v":99000},
{"k":"f6","t":2004,"v":29500},{"k":"f6","t":2005,"v":32000},{"k":"f6","t":2006,"v":35000},{"k":"f6","t":2007,"v":38000},{"k":"f6","t":2008,"v":41000},{"k":"f6","t":2009,"v":44000},{"k":"f6","t":2010,"v":46000},{"k":"f6","t":2011,"v":49000},{"k":"f6","t":2012,"v":52000},{"k":"f6","t":2013,"v":53500},{"k":"f6","t":2014,"v":55000},{"k":"f6","t":2015,"v":56500},{"k":"f6","t":2016,"v":58000},{"k":"f6","t":2017,"v":59000},{"k":"f6","t":2018,"v":60000},
{"k":"f7","t":2004,"v":10000},{"k":"f7","t":2005,"v":10500},{"k":"f7","t":2006,"v":11000},{"k":"f7","t":2007,"v":11500},{"k":"f7","t":2008,"v":12000},{"k":"f7","t":2009,"v":12500},{"k":"f7","t":2010,"v":13000},{"k":"f7","t":2011,"v":13500},{"k":"f7","t":2012,"v":14000},{"k":"f7","t":2013,"v":14500},{"k":"f7","t":2014,"v":14500},{"k":"f7","t":2015,"v":15000},{"k":"f7","t":2016,"v":15000},{"k":"f7","t":2017,"v":15000},{"k":"f7","t":2018,"v":15000}
],
"g":[
{"k":"g1","t":2004,"v":17200},{"k":"g1","t":2005,"v":17100},{"k":"g1","t":2006,"v":17000},{"k":"g1","t":2007,"v":16900},{"k":"g1","t":2008,"v":16900},{"k":"g1","t":2009,"v":16800},{"k":"g1","t":2010,"v":16600},{"k":"g1","t":2011,"v":16500},{"k":"g1","t":2012,"v":16400},{"k":"g1","t":2013,"v":16200},{"k":"g1","t":2014,"v":15900},{"k":"g1","t":2015,"v":15600},{"k":"g1","t":2016,"v":15300},{"k":"g1","t":2017,"v":15000},{"k":"g1","t":2018,"v":14700},
{"k":"g2","t":2004,"v":12000},{"k":"g2","t":2005,"v":13450},{"k":"g2","t":2006,"v":14900},{"k":"g2","t":2007,"v":16500},{"k":"g2","t":2008,"v":17960},{"k":"g2","t":2009,"v":19630},{"k":"g2","t":2010,"v":21370},{"k":"g2","t":2011,"v":23050},{"k":"g2","t":2012,"v":24500},{"k":"g2","t":2013,"v":26460},{"k":"g2","t":2014,"v":28860},{"k":"g2","t":2015,"v":31550},{"k":"g2","t":2016,"v":33440},{"k":"g2","t":2017,"v":34460},{"k":"g2","t":2018,"v":35770},
{"k":"g3","t":2004,"v":50},{"k":"g3","t":2005,"v":50},{"k":"g3","t":2006,"v":50},{"k":"g3","t":2007,"v":50},{"k":"g3","t":2008,"v":50},{"k":"g3","t":2009,"v":50},{"k":"g3","t":2010,"v":50},{"k":"g3","t":2011,"v":50},{"k":"g3","t":2012,"v":50},{"k":"g3","t":2013,"v":50},{"k":"g3","t":2014,"v":50},{"k":"g3","t":2015,"v":50},{"k":"g3","t":2016,"v":50},{"k":"g3","t":2017,"v":50},{"k":"g3","t":2018,"v":50},
{"k":"g4","t":2004,"v":2900},{"k":"g4","t":2005,"v":2900},{"k":"g4","t":2006,"v":3000},{"k":"g4","t":2007,"v":3100},{"k":"g4","t":2008,"v":3300},{"k":"g4","t":2009,"v":3450},{"k":"g4","t":2010,"v":3600},{"k":"g4","t":2011,"v":3750},{"k":"g4","t":2012,"v":3850},{"k":"g4","t":2013,"v":3900},{"k":"g4","t":2014,"v":4000},{"k":"g4","t":2015,"v":4050},{"k":"g4","t":2016,"v":4100},{"k":"g4","t":2017,"v":4200},{"k":"g4","t":2018,"v":4300}
],
"h":[
{"k":"h1","t":2004,"v":2100},{"k":"h1","t":2005,"v":470},{"k":"h1","t":2006,"v":490},{"k":"h1","t":2007,"v":540},{"k":"h1","t":2008,"v":510},{"k":"h1","t":2009,"v":400},{"k":"h1","t":2010,"v":390},{"k":"h1","t":2011,"v":380},{"k":"h1","t":2012,"v":490},{"k":"h1","t":2013,"v":520},{"k":"h1","t":2014,"v":530},{"k":"h1","t":2015,"v":530},{"k":"h1","t":2016,"v":530},{"k":"h1","t":2017,"v":530},{"k":"h1","t":2018,"v":540},
{"k":"h2","t":2004,"v":1920},{"k":"h2","t":2005,"v":2000},{"k":"h2","t":2006,"v":2090},{"k":"h2","t":2007,"v":2200},{"k":"h2","t":2008,"v":2300},{"k":"h2","t":2009,"v":2410},{"k":"h2","t":2010,"v":2490},{"k":"h2","t":2011,"v":2580},{"k":"h2","t":2012,"v":2640},{"k":"h2","t":2013,"v":2650},{"k":"h2","t":2014,"v":2620},{"k":"h2","t":2015,"v":2540},{"k":"h2","t":2016,"v":2450},{"k":"h2","t":2017,"v":2360},{"k":"h2","t":2018,"v":2280},
{"k":"h3","t":2004,"v":4000},{"k":"h3","t":2005,"v":4080},{"k":"h3","t":2006,"v":4220},{"k":"h3","t":2007,"v":4380},{"k":"h3","t":2008,"v":4510},{"k":"h3","t":2009,"v":4630},{"k":"h3","t":2010,"v":4670},{"k":"h3","t":2011,"v":4790},{"k":"h3","t":2012,"v":4850},{"k":"h3","t":2013,"v":4910},{"k":"h3","t":2014,"v":5050},{"k":"h3","t":2015,"v":5170},{"k":"h3","t":2016,"v":5290},{"k":"h3","t":2017,"v":5420},{"k":"h3","t":2018,"v":5560}
],
"i":[
{"k":"i1","t":2004,"v":14500},{"k":"i1","t":2005,"v":15500},{"k":"i1","t":2006,"v":16500},{"k":"i1","t":2007,"v":18000},{"k":"i1","t":2008,"v":19500},{"k":"i1","t":2009,"v":21500},{"k":"i1","t":2010,"v":23000},{"k":"i1","t":2011,"v":24500},{"k":"i1","t":2012,"v":26000},{"k":"i1","t":2013,"v":27500},{"k":"i1","t":2014,"v":29000},{"k":"i1","t":2015,"v":30000},{"k":"i1","t":2016,"v":32000},{"k":"i1","t":2017,"v":34000},{"k":"i1","t":2018,"v":35000},
{"k":"i2","t":2004,"v":8000},{"k":"i2","t":2005,"v":8500},{"k":"i2","t":2006,"v":9300},{"k":"i2","t":2007,"v":10500},{"k":"i2","t":2008,"v":17000},{"k":"i2","t":2009,"v":19500},{"k":"i2","t":2010,"v":19500},{"k":"i2","t":2011,"v":18000},{"k":"i2","t":2012,"v":16800},{"k":"i2","t":2013,"v":16500},{"k":"i2","t":2014,"v":16000},{"k":"i2","t":2015,"v":15000},{"k":"i2","t":2016,"v":13500},{"k":"i2","t":2017,"v":11500},{"k":"i2","t":2018,"v":10300},
{"k":"i3","t":2004,"v":100},{"k":"i3","t":2005,"v":100},{"k":"i3","t":2006,"v":100},{"k":"i3","t":2007,"v":100},{"k":"i3","t":2008,"v":100},{"k":"i3","t":2009,"v":100},{"k":"i3","t":2010,"v":100},{"k":"i3","t":2011,"v":100},{"k":"i3","t":2012,"v":100},{"k":"i3","t":2013,"v":100},{"k":"i3","t":2014,"v":100},{"k":"i3","t":2015,"v":100},{"k":"i3","t":2016,"v":100},{"k":"i3","t":2017,"v":100},{"k":"i3","t":2018,"v":100},
{"k":"i4","t":2004,"v":200},{"k":"i4","t":2005,"v":200},{"k":"i4","t":2006,"v":200},{"k":"i4","t":2007,"v":200},{"k":"i4","t":2008,"v":200},{"k":"i4","t":2009,"v":200},{"k":"i4","t":2010,"v":200},{"k":"i4","t":2011,"v":200},{"k":"i4","t":2012,"v":200},{"k":"i4","t":2013,"v":200},{"k":"i4","t":2014,"v":200},{"k":"i4","t":2015,"v":200},{"k":"i4","t":2016,"v":200},{"k":"i4","t":2017,"v":200},{"k":"i4","t":2018,"v":200},
{"k":"i5","t":2004,"v":2000},{"k":"i5","t":2005,"v":2000},{"k":"i5","t":2006,"v":2000},{"k":"i5","t":2007,"v":2000},{"k":"i5","t":2008,"v":2000},{"k":"i5","t":2009,"v":2000},{"k":"i5","t":2010,"v":2000},{"k":"i5","t":2011,"v":2000},{"k":"i5","t":2012,"v":2000},{"k":"i5","t":2013,"v":2000},{"k":"i5","t":2014,"v":2000},{"k":"i5","t":2015,"v":2000},{"k":"i5","t":2016,"v":2000},{"k":"i5","t":2017,"v":2000},{"k":"i5","t":2018,"v":2000},
{"k":"i6","t":2004,"v":1500},{"k":"i6","t":2005,"v":1800},{"k":"i6","t":2006,"v":2000},{"k":"i6","t":2007,"v":2200},{"k":"i6","t":2008,"v":2500},{"k":"i6","t":2009,"v":2800},{"k":"i6","t":2010,"v":3000},{"k":"i6","t":2011,"v":3200},{"k":"i6","t":2012,"v":3400},{"k":"i6","t":2013,"v":3500},{"k":"i6","t":2014,"v":3600},{"k":"i6","t":2015,"v":3700},{"k":"i6","t":2016,"v":3700},{"k":"i6","t":2017,"v":3800},{"k":"i6","t":2018,"v":3800},
{"k":"i7","t":2004,"v":400},{"k":"i7","t":2005,"v":400},{"k":"i7","t":2006,"v":400},{"k":"i7","t":2007,"v":400},{"k":"i7","t":2008,"v":400},{"k":"i7","t":2009,"v":400},{"k":"i7","t":2010,"v":400},{"k":"i7","t":2011,"v":400},{"k":"i7","t":2012,"v":400},{"k":"i7","t":2013,"v":400},{"k":"i7","t":2014,"v":400},{"k":"i7","t":2015,"v":400},{"k":"i7","t":2016,"v":400},{"k":"i7","t":2017,"v":400},{"k":"i7","t":2018,"v":400},
{"k":"i8","t":2004,"v":300},{"k":"i8","t":2005,"v":300},{"k":"i8","t":2006,"v":300},{"k":"i8","t":2007,"v":300},{"k":"i8","t":2008,"v":300},{"k":"i8","t":2009,"v":300},{"k":"i8","t":2010,"v":300},{"k":"i8","t":2011,"v":300},{"k":"i8","t":2012,"v":300},{"k":"i8","t":2013,"v":300},{"k":"i8","t":2014,"v":300},{"k":"i8","t":2015,"v":300},{"k":"i8","t":2016,"v":300},{"k":"i8","t":2017,"v":300},{"k":"i8","t":2018,"v":300},
{"k":"i9","t":2004,"v":50},{"k":"i9","t":2005,"v":50},{"k":"i9","t":2006,"v":50},{"k":"i9","t":2007,"v":50},{"k":"i9","t":2008,"v":50},{"k":"i9","t":2009,"v":50},{"k":"i9","t":2010,"v":50},{"k":"i9","t":2011,"v":50},{"k":"i9","t":2012,"v":50},{"k":"i9","t":2013,"v":50},{"k":"i9","t":2014,"v":50},{"k":"i9","t":2015,"v":50},{"k":"i9","t":2016,"v":50},{"k":"i9","t":2017,"v":50},{"k":"i9","t":2018,"v":50},
{"k":"i10","t":2004,"v":15500},{"k":"i10","t":2005,"v":17500},{"k":"i10","t":2006,"v":20000},{"k":"i10","t":2007,"v":23000},{"k":"i10","t":2008,"v":26000},{"k":"i10","t":2009,"v":30000},{"k":"i10","t":2010,"v":33500},{"k":"i10","t":2011,"v":36500},{"k":"i10","t":2012,"v":40500},{"k":"i10","t":2013,"v":44500},{"k":"i10","t":2014,"v":47500},{"k":"i10","t":2015,"v":50500},{"k":"i10","t":2016,"v":53000},{"k":"i10","t":2017,"v":55000},{"k":"i10","t":2018,"v":55500},
{"k":"i11","t":2004,"v":150},{"k":"i11","t":2005,"v":150},{"k":"i11","t":2006,"v":150},{"k":"i11","t":2007,"v":150},{"k":"i11","t":2008,"v":150},{"k":"i11","t":2009,"v":150},{"k":"i11","t":2010,"v":150},{"k":"i11","t":2011,"v":150},{"k":"i11","t":2012,"v":150},{"k":"i11","t":2013,"v":150},{"k":"i11","t":2014,"v":150},{"k":"i11","t":2015,"v":150},{"k":"i11","t":2016,"v":150},{"k":"i11","t":2017,"v":150},{"k":"i11","t":2018,"v":150},
{"k":"i12","t":2004,"v":500},{"k":"i12","t":2005,"v":1000},{"k":"i12","t":2006,"v":1500},{"k":"i12","t":2007,"v":1800},{"k":"i12","t":2008,"v":2000},{"k":"i12","t":2009,"v":2000},{"k":"i12","t":2010,"v":1500},{"k":"i12","t":2011,"v":300},{"k":"i12","t":2012,"v":200},{"k":"i12","t":2013,"v":200},{"k":"i12","t":2014,"v":200},{"k":"i12","t":2015,"v":200},{"k":"i12","t":2016,"v":200},{"k":"i12","t":2017,"v":200},{"k":"i12","t":2018,"v":200}
],
"j":[
{"k":"j1","t":2004,"v":48900},{"k":"j1","t":2005,"v":46300},{"k":"j1","t":2006,"v":45000},{"k":"j1","t":2007,"v":45100},{"k":"j1","t":2008,"v":45300},{"k":"j1","t":2009,"v":45500},{"k":"j1","t":2010,"v":45500},{"k":"j1","t":2011,"v":45600},{"k":"j1","t":2012,"v":45500},{"k":"j1","t":2013,"v":45200},{"k":"j1","t":2014,"v":45100},{"k":"j1","t":2015,"v":44800},{"k":"j1","t":2016,"v":43700},{"k":"j1","t":2017,"v":41400},{"k":"j1","t":2018,"v":39800},
{"k":"j2","t":2004,"v":1300},{"k":"j2","t":2005,"v":1400},{"k":"j2","t":2006,"v":1400},{"k":"j2","t":2007,"v":1500},{"k":"j2","t":2008,"v":1600},{"k":"j2","t":2009,"v":1700},{"k":"j2","t":2010,"v":1800},{"k":"j2","t":2011,"v":1900},{"k":"j2","t":2012,"v":2000},{"k":"j2","t":2013,"v":2100},{"k":"j2","t":2014,"v":2200},{"k":"j2","t":2015,"v":2200},{"k":"j2","t":2016,"v":2300},{"k":"j2","t":2017,"v":2300},{"k":"j2","t":2018,"v":2400},
{"k":"j3","t":2004,"v":8800},{"k":"j3","t":2005,"v":9000},{"k":"j3","t":2006,"v":9100},{"k":"j3","t":2007,"v":9500},{"k":"j3","t":2008,"v":10300},{"k":"j3","t":2009,"v":11000},{"k":"j3","t":2010,"v":11500},{"k":"j3","t":2011,"v":12000},{"k":"j3","t":2012,"v":12500},{"k":"j3","t":2013,"v":13000},{"k":"j3","t":2014,"v":14000},{"k":"j3","t":2015,"v":14300},{"k":"j3","t":2016,"v":14700},{"k":"j3","t":2017,"v":14300},{"k":"j3","t":2018,"v":13200}
],
"k":[
{"k":"k1","t":2004,"v":6650},{"k":"k1","t":2005,"v":6360},{"k":"k1","t":2006,"v":5780},{"k":"k1","t":2007,"v":5750},{"k":"k1","t":2008,"v":5610},{"k":"k1","t":2009,"v":5450},{"k":"k1","t":2010,"v":5300},{"k":"k1","t":2011,"v":5200},{"k":"k1","t":2012,"v":5200},{"k":"k1","t":2013,"v":4860},{"k":"k1","t":2014,"v":4620},{"k":"k1","t":2015,"v":4200},{"k":"k1","t":2016,"v":3830},{"k":"k1","t":2017,"v":3490},{"k":"k1","t":2018,"v":3080},
{"k":"k2","t":2004,"v":4600},{"k":"k2","t":2005,"v":4600},{"k":"k2","t":2006,"v":4750},{"k":"k2","t":2007,"v":4750},{"k":"k2","t":2008,"v":4900},{"k":"k2","t":2009,"v":5050},{"k":"k2","t":2010,"v":5000},{"k":"k2","t":2011,"v":4900},{"k":"k2","t":2012,"v":4800},{"k":"k2","t":2013,"v":4950},{"k":"k2","t":2014,"v":5050},{"k":"k2","t":2015,"v":4850},{"k":"k2","t":2016,"v":4700},{"k":"k2","t":2017,"v":4550},{"k":"k2","t":2018,"v":4250},
{"k":"k3","t":2004,"v":250},{"k":"k3","t":2005,"v":250},{"k":"k3","t":2006,"v":250},{"k":"k3","t":2007,"v":250},{"k":"k3","t":2008,"v":250},{"k":"k3","t":2009,"v":250},{"k":"k3","t":2010,"v":250},{"k":"k3","t":2011,"v":250},{"k":"k3","t":2012,"v":250},{"k":"k3","t":2013,"v":250},{"k":"k3","t":2014,"v":250},{"k":"k3","t":2015,"v":250},{"k":"k3","t":2016,"v":250},{"k":"k3","t":2017,"v":250},{"k":"k3","t":2018,"v":250},
{"k":"k4","t":2004,"v":11900},{"k":"k4","t":2005,"v":12400},{"k":"k4","t":2006,"v":12800},{"k":"k4","t":2007,"v":13300},{"k":"k4","t":2008,"v":13800},{"k":"k4","t":2009,"v":14100},{"k":"k4","t":2010,"v":14500},{"k":"k4","t":2011,"v":15100},{"k":"k4","t":2012,"v":15700},{"k":"k4","t":2013,"v":16000},{"k":"k4","t":2014,"v":16300},{"k":"k4","t":2015,"v":16500},{"k":"k4","t":2016,"v":16700},{"k":"k4","t":2017,"v":16700},{"k":"k4","t":2018,"v":16900},
{"k":"k5","t":2004,"v":150},{"k":"k5","t":2005,"v":150},{"k":"k5","t":2006,"v":150},{"k":"k5","t":2007,"v":150},{"k":"k5","t":2008,"v":150},{"k":"k5","t":2009,"v":150},{"k":"k5","t":2010,"v":150},{"k":"k5","t":2011,"v":150},{"k":"k5","t":2012,"v":150},{"k":"k5","t":2013,"v":150},{"k":"k5","t":2014,"v":150},{"k":"k5","t":2015,"v":150},{"k":"k5","t":2016,"v":150},{"k":"k5","t":2017,"v":150},{"k":"k5","t":2018,"v":150},
{"k":"k6","t":2004,"v":8300},{"k":"k6","t":2005,"v":8800},{"k":"k6","t":2006,"v":9300},{"k":"k6","t":2007,"v":10000},{"k":"k6","t":2008,"v":10800},{"k":"k6","t":2009,"v":11400},{"k":"k6","t":2010,"v":11700},{"k":"k6","t":2011,"v":11900},{"k":"k6","t":2012,"v":12100},{"k":"k6","t":2013,"v":12300},{"k":"k6","t":2014,"v":12300},{"k":"k6","t":2015,"v":12100},{"k":"k6","t":2016,"v":11200},{"k":"k6","t":2017,"v":10200},{"k":"k6","t":2018,"v":8900},
{"k":"k7","t":2004,"v":30},{"k":"k7","t":2005,"v":30},{"k":"k7","t":2006,"v":30},{"k":"k7","t":2007,"v":30},{"k":"k7","t":2008,"v":30},{"k":"k7","t":2009,"v":30},{"k":"k7","t":2010,"v":30},{"k":"k7","t":2011,"v":30},{"k":"k7","t":2012,"v":30},{"k":"k7","t":2013,"v":30},{"k":"k7","t":2014,"v":30},{"k":"k7","t":2015,"v":30},{"k":"k7","t":2016,"v":30},{"k":"k7","t":2017,"v":30},{"k":"k7","t":2018,"v":30}
],
"l":[
{"k":"l1","t":2004,"v":4300},{"k":"l1","t":2005,"v":4250},{"k":"l1","t":2006,"v":4250},{"k":"l1","t":2007,"v":4300},{"k":"l1","t":2008,"v":4200},{"k":"l1","t":2009,"v":4100},{"k":"l1","t":2010,"v":3950},{"k":"l1","t":2011,"v":3850},{"k":"l1","t":2012,"v":3800},{"k":"l1","t":2013,"v":3750},{"k":"l1","t":2014,"v":3700},{"k":"l1","t":2015,"v":3600},{"k":"l1","t":2016,"v":3600},{"k":"l1","t":2017,"v":3500},{"k":"l1","t":2018,"v":3300},
{"k":"l2","t":2004,"v":10500},{"k":"l2","t":2005,"v":10900},{"k":"l2","t":2006,"v":10900},{"k":"l2","t":2007,"v":11400},{"k":"l2","t":2008,"v":12000},{"k":"l2","t":2009,"v":12500},{"k":"l2","t":2010,"v":12900},{"k":"l2","t":2011,"v":13300},{"k":"l2","t":2012,"v":13900},{"k":"l2","t":2013,"v":14500},{"k":"l2","t":2014,"v":15100},{"k":"l2","t":2015,"v":15200},{"k":"l2","t":2016,"v":15400},{"k":"l2","t":2017,"v":15100},{"k":"l2","t":2018,"v":14800},
{"k":"l3","t":2004,"v":3900},{"k":"l3","t":2005,"v":3900},{"k":"l3","t":2006,"v":3950},{"k":"l3","t":2007,"v":3850},{"k":"l3","t":2008,"v":4000},{"k":"l3","t":2009,"v":4100},{"k":"l3","t":2010,"v":3950},{"k":"l3","t":2011,"v":3900},{"k":"l3","t":2012,"v":4000},{"k":"l3","t":2013,"v":4000},{"k":"l3","t":2014,"v":3950},{"k":"l3","t":2015,"v":3900},{"k":"l3","t":2016,"v":3700},{"k":"l3","t":2017,"v":3000},{"k":"l3","t":2018,"v":2500}
],
"m":[
{"k":"m1","t":2004,"v":27130},{"k":"m1","t":2005,"v":31670},{"k":"m1","t":2006,"v":26590},{"k":"m1","t":2007,"v":26860},{"k":"m1","t":2008,"v":26120},{"k":"m1","t":2009,"v":26730},{"k":"m1","t":2010,"v":25780},{"k":"m1","t":2011,"v":27880},{"k":"m1","t":2012,"v":26460},{"k":"m1","t":2013,"v":26050},{"k":"m1","t":2014,"v":26320},{"k":"m1","t":2015,"v":24900},{"k":"m1","t":2016,"v":24430},{"k":"m1","t":2017,"v":23880},{"k":"m1","t":2018,"v":22800},
{"k":"m2","t":2004,"v":6.8},{"k":"m2","t":2005,"v":6.69},{"k":"m2","t":2006,"v":4.72},{"k":"m2","t":2007,"v":3.79},{"k":"m2","t":2008,"v":3.16},{"k":"m2","t":2009,"v":2.43},{"k":"m2","t":2010,"v":1.24},{"k":"m2","t":2011,"v":0.99},{"k":"m2","t":2012,"v":0.74},{"k":"m2","t":2013,"v":0.68},{"k":"m2","t":2014,"v":0.54},{"k":"m2","t":2015,"v":0.36},{"k":"m2","t":2016,"v":0.34},{"k":"m2","t":2017,"v":0.22},{"k":"m2","t":2018,"v":0.15}
],
"n":[
{"k":"n1","t":2004,"v":108},{"k":"n1","t":2005,"v":119},{"k":"n1","t":2006,"v":143},{"k":"n1","t":2007,"v":173},{"k":"n1","t":2008,"v":203},{"k":"n1","t":2009,"v":227},{"k":"n1","t":2010,"v":275},{"k":"n1","t":2011,"v":329},{"k":"n1","t":2012,"v":382},{"k":"n1","t":2013,"v":412},{"k":"n1","t":2014,"v":436},{"k":"n1","t":2015,"v":478},{"k":"n1","t":2016,"v":520},{"k":"n1","t":2017,"v":544},{"k":"n1","t":2018,"v":562},
{"k":"n2","t":2004,"v":1541},{"k":"n2","t":2005,"v":1577},{"k":"n2","t":2006,"v":1643},{"k":"n2","t":2007,"v":1703},{"k":"n2","t":2008,"v":1894},{"k":"n2","t":2009,"v":1983},{"k":"n2","t":2010,"v":2079},{"k":"n2","t":2011,"v":2174},{"k":"n2","t":2012,"v":2246},{"k":"n2","t":2013,"v":2312},{"k":"n2","t":2014,"v":2413},{"k":"n2","t":2015,"v":2503},{"k":"n2","t":2016,"v":2593},{"k":"n2","t":2017,"v":2551},{"k":"n2","t":2018,"v":2521}
],
"o":[
{"k":"o1","t":2004,"v":300},{"k":"o1","t":2005,"v":300},{"k":"o1","t":2006,"v":300},{"k":"o1","t":2007,"v":300},{"k":"o1","t":2008,"v":300},{"k":"o1","t":2009,"v":300},{"k":"o1","t":2010,"v":300},{"k":"o1","t":2011,"v":300},{"k":"o1","t":2012,"v":300},{"k":"o1","t":2013,"v":300},{"k":"o1","t":2014,"v":300},{"k":"o1","t":2015,"v":300},{"k":"o1","t":2016,"v":300},{"k":"o1","t":2017,"v":300},{"k":"o1","t":2018,"v":300},
{"k":"o2","t":2004,"v":24200},{"k":"o2","t":2005,"v":24100},{"k":"o2","t":2006,"v":23900},{"k":"o2","t":2007,"v":24000},{"k":"o2","t":2008,"v":24600},{"k":"o2","t":2009,"v":24900},{"k":"o2","t":2010,"v":24800},{"k":"o2","t":2011,"v":24600},{"k":"o2","t":2012,"v":25000},{"k":"o2","t":2013,"v":24900},{"k":"o2","t":2014,"v":24500},{"k":"o2","t":2015,"v":23700},{"k":"o2","t":2016,"v":23200},{"k":"o2","t":2017,"v":22100},{"k":"o2","t":2018,"v":20900},
{"k":"o3","t":2004,"v":700},{"k":"o3","t":2005,"v":700},{"k":"o3","t":2006,"v":650},{"k":"o3","t":2007,"v":600},{"k":"o3","t":2008,"v":600},{"k":"o3","t":2009,"v":600},{"k":"o3","t":2010,"v":600},{"k":"o3","t":2011,"v":600},{"k":"o3","t":2012,"v":600},{"k":"o3","t":2013,"v":600},{"k":"o3","t":2014,"v":600},{"k":"o3","t":2015,"v":600},{"k":"o3","t":2016,"v":550},{"k":"o3","t":2017,"v":500},{"k":"o3","t":2018,"v":500},
{"k":"o4","t":2004,"v":9100},{"k":"o4","t":2005,"v":8700},{"k":"o4","t":2006,"v":8500},{"k":"o4","t":2007,"v":8300},{"k":"o4","t":2008,"v":8400},{"k":"o4","t":2009,"v":8300},{"k":"o4","t":2010,"v":8200},{"k":"o4","t":2011,"v":8300},{"k":"o4","t":2012,"v":8300},{"k":"o4","t":2013,"v":8200},{"k":"o4","t":2014,"v":8200},{"k":"o4","t":2015,"v":7800},{"k":"o4","t":2016,"v":7600},{"k":"o4","t":2017,"v":7000},{"k":"o4","t":2018,"v":6600},
{"k":"o5","t":2004,"v":200},{"k":"o5","t":2005,"v":200},{"k":"o5","t":2006,"v":200},{"k":"o5","t":2007,"v":200},{"k":"o5","t":2008,"v":200},{"k":"o5","t":2009,"v":200},{"k":"o5","t":2010,"v":200},{"k":"o5","t":2011,"v":200},{"k":"o5","t":2012,"v":200},{"k":"o5","t":2013,"v":200},{"k":"o5","t":2014,"v":200},{"k":"o5","t":2015,"v":200},{"k":"o5","t":2016,"v":200},{"k":"o5","t":2017,"v":200},{"k":"o5","t":2018,"v":200},
{"k":"o6","t":2004,"v":22850},{"k":"o6","t":2005,"v":23670},{"k":"o6","t":2006,"v":23900},{"k":"o6","t":2007,"v":24560},{"k":"o6","t":2008,"v":26680},{"k":"o6","t":2009,"v":28450},{"k":"o6","t":2010,"v":29870},{"k":"o6","t":2011,"v":30050},{"k":"o6","t":2012,"v":30700},{"k":"o6","t":2013,"v":31290},{"k":"o6","t":2014,"v":28570},{"k":"o6","t":2015,"v":27150},{"k":"o6","t":2016,"v":25620},{"k":"o6","t":2017,"v":21960},{"k":"o6","t":2018,"v":18120},
{"k":"o7","t":2004,"v":2500},{"k":"o7","t":2005,"v":2600},{"k":"o7","t":2006,"v":2600},{"k":"o7","t":2007,"v":2600},{"k":"o7","t":2008,"v":2600},{"k":"o7","t":2009,"v":2600},{"k":"o7","t":2010,"v":2600},{"k":"o7","t":2011,"v":2600},{"k":"o7","t":2012,"v":2600},{"k":"o7","t":2013,"v":2500},{"k":"o7","t":2014,"v":2500},{"k":"o7","t":2015,"v":2600},{"k":"o7","t":2016,"v":2600},{"k":"o7","t":2017,"v":2600},{"k":"o7","t":2018,"v":2600},
{"k":"o8","t":2004,"v":600},{"k":"o8","t":2005,"v":600},{"k":"o8","t":2006,"v":600},{"k":"o8","t":2007,"v":600},{"k":"o8","t":2008,"v":650},{"k":"o8","t":2009,"v":700},{"k":"o8","t":2010,"v":800},{"k":"o8","t":2011,"v":800},{"k":"o8","t":2012,"v":700},{"k":"o8","t":2013,"v":700},{"k":"o8","t":2014,"v":800},{"k":"o8","t":2015,"v":800},{"k":"o8","t":2016,"v":800},{"k":"o8","t":2017,"v":800},{"k":"o8","t":2018,"v":800},
{"k":"o9","t":2004,"v":2200},{"k":"o9","t":2005,"v":1800},{"k":"o9","t":2006,"v":700},{"k":"o9","t":2007,"v":700},{"k":"o9","t":2008,"v":700},{"k":"o9","t":2009,"v":700},{"k":"o9","t":2010,"v":700},{"k":"o9","t":2011,"v":700},{"k":"o9","t":2012,"v":700},{"k":"o9","t":2013,"v":700},{"k":"o9","t":2014,"v":700},{"k":"o9","t":2015,"v":700},{"k":"o9","t":2016,"v":700},{"k":"o9","t":2017,"v":600},{"k":"o9","t":2018,"v":600},
{"k":"o10","t":2004,"v":400},{"k":"o10","t":2005,"v":400},{"k":"o10","t":2006,"v":400},{"k":"o10","t":2007,"v":400},{"k":"o10","t":2008,"v":400},{"k":"o10","t":2009,"v":400},{"k":"o10","t":2010,"v":400},{"k":"o10","t":2011,"v":400},{"k":"o10","t":2012,"v":400},{"k":"o10","t":2013,"v":400},{"k":"o10","t":2014,"v":400},{"k":"o10","t":2015,"v":400},{"k":"o10","t":2016,"v":400},{"k":"o10","t":2017,"v":400},{"k":"o10","t":2018,"v":400},
{"k":"o11","t":2004,"v":2900},{"k":"o11","t":2005,"v":2900},{"k":"o11","t":2006,"v":2900},{"k":"o11","t":2007,"v":3000},{"k":"o11","t":2008,"v":3000},{"k":"o11","t":2009,"v":3100},{"k":"o11","t":2010,"v":3100},{"k":"o11","t":2011,"v":3100},{"k":"o11","t":2012,"v":3100},{"k":"o11","t":2013,"v":3100},{"k":"o11","t":2014,"v":3100},{"k":"o11","t":2015,"v":3100},{"k":"o11","t":2016,"v":3000},{"k":"o11","t":2017,"v":2900},{"k":"o11","t":2018,"v":2700},
{"k":"o12","t":2004,"v":3900},{"k":"o12","t":2005,"v":3800},{"k":"o12","t":2006,"v":3700},{"k":"o12","t":2007,"v":3800},{"k":"o12","t":2008,"v":3800},{"k":"o12","t":2009,"v":4000},{"k":"o12","t":2010,"v":3800},{"k":"o12","t":2011,"v":3800},{"k":"o12","t":2012,"v":3800},{"k":"o12","t":2013,"v":3800},{"k":"o12","t":2014,"v":3700},{"k":"o12","t":2015,"v":3500},{"k":"o12","t":2016,"v":3400},{"k":"o12","t":2017,"v":3300},{"k":"o12","t":2018,"v":3300},
{"k":"o13","t":2004,"v":3000},{"k":"o13","t":2005,"v":2800},{"k":"o13","t":2006,"v":2800},{"k":"o13","t":2007,"v":2900},{"k":"o13","t":2008,"v":3000},{"k":"o13","t":2009,"v":3000},{"k":"o13","t":2010,"v":3100},{"k":"o13","t":2011,"v":3100},{"k":"o13","t":2012,"v":3100},{"k":"o13","t":2013,"v":3200},{"k":"o13","t":2014,"v":3200},{"k":"o13","t":2015,"v":3100},{"k":"o13","t":2016,"v":3100},{"k":"o13","t":2017,"v":3000},{"k":"o13","t":2018,"v":2800},
{"k":"o14","t":2004,"v":500},{"k":"o14","t":2005,"v":500},{"k":"o14","t":2006,"v":500},{"k":"o14","t":2007,"v":500},{"k":"o14","t":2008,"v":500},{"k":"o14","t":2009,"v":500},{"k":"o14","t":2010,"v":500},{"k":"o14","t":2011,"v":500},{"k":"o14","t":2012,"v":500},{"k":"o14","t":2013,"v":500},{"k":"o14","t":2014,"v":500},{"k":"o14","t":2015,"v":500},{"k":"o14","t":2016,"v":500},{"k":"o14","t":2017,"v":500},{"k":"o14","t":2018,"v":500},
{"k":"o15","t":2004,"v":100},{"k":"o15","t":2005,"v":100},{"k":"o15","t":2006,"v":100},{"k":"o15","t":2007,"v":100},{"k":"o15","t":2008,"v":100},{"k":"o15","t":2009,"v":100},{"k":"o15","t":2010,"v":100},{"k":"o15","t":2011,"v":100},{"k":"o15","t":2012,"v":100},{"k":"o15","t":2013,"v":100},{"k":"o15","t":2014,"v":100},{"k":"o15","t":2015,"v":100},{"k":"o15","t":2016,"v":100},{"k":"o15","t":2017,"v":100},{"k":"o15","t":2018,"v":100}
]
},
"vconcat":[
{"bounds":"flush","spacing":52,"resolve":{"scale":{"color":"independent","stroke":"independent","x":"independent","y":"independent"}},"hconcat":[
 {"width":188,"height":118,"data":{"name":"a"},"transform":[{"lookup":"k","from":{"data":{"name":"nm"},"key":"k","fields":["n"]}}],
  "encoding":{"x":{"field":"t","type":"ordinal","title":"Year","scale":{"padding":0.3},"axis":{"labelExpr":"datum.value + '/' + (datum.value + 1)"}},
   "y":{"field":"v","type":"quantitative","scale":{"domain":[0,140000],"nice":false},"axis":{"format":".2f","titleY":65,"values":[0,20000,40000,60000,80000,100000,120000,140000],"title":"Prescription rate of gastro-intestinal system medications per 100,000 persons"}}},
  "layer":[
   {"transform":[{"filter":{"field":"k","oneOf":["a1","a2","a3","a4","a5"]}}],"mark":{"type":"line","interpolate":"monotone"},"encoding":{"color":{"field":"n","type":"nominal","scale":{"domain":["Dyspepsia and gastro-oeso  phageal reflux disea","Antispasmodics and other drugs altering gut motility","Antisecretory drugs and mucosal protectants","Local preparations for anal and rectal disorders","Drugs Affecting Intestinal Secretions"],"range":["#4F81BD","#C0504D","#9BBB59","#2C4D75","#5F7530"]},"legend":{"title":null,"orient":"none","symbolType":"square","legendX":-21,"legendY":178,"encode":{"symbols":{"update":{"strokeWidth":{"value":3}}}}}}}},
   {"transform":[{"filter":{"field":"k","oneOf":["a6","a7","a8","a9"]}}],"mark":{"type":"line","interpolate":"monotone"},"encoding":{"stroke":{"field":"n","type":"nominal","scale":{"domain":["Acute Diarrhoea","Chronic Bowel Disorders","Laxatives","Stoma Care"],"range":["#8064A2","#4BACC6","#F79646","#772C2A"]},"legend":{"title":null,"orient":"none","symbolType":"square","legendX":126,"legendY":185,"encode":{"symbols":{"update":{"strokeWidth":{"value":3}}}}}}}}
  ]},
 {"width":219,"height":120,"data":{"name":"b"},"transform":[{"lookup":"k","from":{"data":{"name":"nm"},"key":"k","fields":["n"]}}],
  "encoding":{"x":{"field":"t","type":"ordinal","title":"Year","scale":{"padding":0.3},"axis":{"labelExpr":"datum.value + '/' + (datum.value + 1)"}},
   "y":{"field":"v","type":"quantitative","scale":{"domain":[0,160000],"nice":false},"axis":{"format":".2f","titleY":62,"values":[0,20000,40000,60000,80000,100000,120000,140000,160000],"title":"Prescription rate of cardiovascular system medications per 100,000 persons"}}},
  "layer":[
   {"transform":[{"filter":{"field":"k","oneOf":["b1","b2","b3","b4","b5","b6","b7"]}}],"mark":{"type":"line","interpolate":"monotone"},"encoding":{"color":{"field":"n","type":"nominal","scale":{"domain":["Positive Inotropic Drugs","Diuretics","Anti-Arrhythmic Drugs","Beta-Adrenoceptor Blocking Drugs","Hypertension and heart failure","Nitrates, calcium-channel blockers, and other anangina l drugs","Sympathomimetics"],"range":["#4F81BD","#C0504D","#9BBB59","#8064A2","#4BACC6","#F79646","#2C4D75"]},"legend":{"title":null,"orient":"none","symbolType":"square","legendX":-28,"legendY":162,"encode":{"symbols":{"update":{"strokeWidth":{"value":3}}}}}}}},
   {"transform":[{"filter":{"field":"k","oneOf":["b8","b9","b10","b11","b12","b13"]}}],"mark":{"type":"line","interpolate":"monotone"},"encoding":{"stroke":{"field":"n","type":"nominal","scale":{"domain":["Anticoagulants and Protamine","Antiplatelet Drugs","Myocardial infarction and fibrinolysis","Antifibrinolytic drugs and haemostatics","Lipid-Regulating Drugs","Local Sclerosants"],"range":["#772C2A","#5F7530","#4D3B62","#276A7C","#F38A30","#A5BADF"]},"legend":{"title":null,"orient":"none","symbolType":"square","legendX":130,"legendY":167,"encode":{"symbols":{"update":{"strokeWidth":{"value":3}}}}}}}}
  ]},
 {"width":206,"height":119,"data":{"name":"c"},"transform":[{"lookup":"k","from":{"data":{"name":"nm"},"key":"k","fields":["n"]}}],
  "encoding":{"x":{"field":"t","type":"ordinal","title":"Year","scale":{"padding":0.3},"axis":{"labelExpr":"datum.value + '/' + (datum.value + 1)"}},
   "y":{"field":"v","type":"quantitative","scale":{"domain":[0,70000],"nice":false},"axis":{"format":".2f","titleY":64,"values":[0,10000,20000,30000,40000,50000,60000,70000],"title":"Prescription rate of respiratory system medications per 100,000 persons"}}},
  "layer":[
   {"transform":[{"filter":{"field":"k","oneOf":["c1","c2","c3","c4","c5","c6"]}}],"mark":{"type":"line"},"encoding":{"color":{"field":"n","type":"nominal","scale":{"domain":["Bronchodilators","Other Systemic Drugs For COPD","Respiratory stimulants and pulmonary surfactants","Mucolytics","Antihistamines, hyposensitisation, and allergic  emergencies","Cromoglicate and related therapy and leukotriene receptor antagonists"],"range":["#4F81BD","#276A7C","#4BACC6","#2C4D75","#8064A2","#AFC97A"]},"legend":{"title":null,"orient":"none","symbolType":"square","legendX":-25,"legendY":164,"encode":{"symbols":{"update":{"strokeWidth":{"value":3}}}},"labelExpr":"datum.label == 'Cromoglicate and related therapy and leukotriene receptor antagonists' ? ['Cromoglicate and related therapy and', 'leukotriene receptor antagonists'] : datum.label"}}}},
   {"transform":[{"filter":{"field":"k","oneOf":["c7","c8","c9","c10","c11"]}}],"mark":{"type":"line"},"encoding":{"stroke":{"field":"n","type":"nominal","scale":{"domain":["Corticosteroids (Respiratory)","Cough Preparations","Oxygen","Aromatic Inhalations","Systemic Nasal Decongestants"],"range":["#C0504D","#5F7530","#F79646","#772C2A","#4D3B62"]},"legend":{"title":null,"orient":"none","symbolType":"square","legendX":134,"legendY":170,"encode":{"symbols":{"update":{"strokeWidth":{"value":3}}}}}}}}
  ]}
]},
{"spacing":36,"resolve":{"scale":{"color":"independent","stroke":"independent","x":"independent","y":"independent"}},"vconcat":[
{"bounds":"flush","spacing":58,"resolve":{"scale":{"color":"independent","stroke":"independent","x":"independent","y":"independent"}},"hconcat":[
 {"width":185,"height":129,"data":{"name":"d"},"transform":[{"lookup":"k","from":{"data":{"name":"nm"},"key":"k","fields":["n"]}}],
  "encoding":{"x":{"field":"t","type":"ordinal","title":"Year","scale":{"padding":0.3},"axis":{"labelExpr":"datum.value + '/' + (datum.value + 1)"}},
   "y":{"field":"v","type":"quantitative","scale":{"domain":[0,140000],"nice":false},"axis":{"format":".2f","titleY":80,"values":[0,20000,40000,60000,80000,100000,120000,140000],"title":"Prescription rate of central nervous system medications per 100,000 persons"}}},
  "layer":[
   {"transform":[{"filter":{"field":"k","oneOf":["d1","d2","d3","d4","d5","d6"]}}],"mark":{"type":"line","interpolate":"monotone"},"encoding":{"color":{"field":"n","type":"nominal","scale":{"domain":["Hypnotics and anxiolytics","Drugs used in psychoses and related disorders","Antidepressant Drugs","Drugs used in the treatment of obesity","Drugs used in nausea and vertigo","CNS stimulants and drugs used for attention deficit hyperactivity disorder"],"range":["#4F81BD","#C0504D","#9BBB59","#4BACC6","#F79646","#8064A2"]},"legend":{"title":null,"orient":"none","symbolType":"square","legendX":-36,"legendY":187,"rowPadding":2.8,"encode":{"symbols":{"update":{"strokeWidth":{"value":3}}}}}}}},
   {"transform":[{"filter":{"field":"k","oneOf":["d7","d8","d9","d10","d11"]}}],"mark":{"type":"line","interpolate":"monotone"},"encoding":{"stroke":{"field":"n","type":"nominal","scale":{"domain":["Analgesics","Antiepileptics","Drugs used in parkinsonism and related disorders","Drugs used in substance dependence","Drugs for dementia"],"range":["#2C4D75","#772C2A","#5F7530","#4D3B62","#276A7C"]},"legend":{"title":null,"orient":"none","symbolType":"square","legendX":100,"legendY":187,"encode":{"symbols":{"update":{"strokeWidth":{"value":3}}}},"labelExpr":"datum.label == 'Drugs used in parkinsonism and related disorders' ? ['Drugs used in parkinsonism', 'and related disorders'] : datum.label"}}}}
  ]},
 {"bounds":"flush","spacing":101,"resolve":{"scale":{"color":"independent","stroke":"independent","x":"independent","y":"independent"}},"hconcat":[
  {"width":178,"height":185,"data":{"name":"e"},"transform":[{"lookup":"k","from":{"data":{"name":"nm"},"key":"k","fields":["n"]}}],
   "encoding":{"x":{"field":"t","type":"ordinal","title":"Year","scale":{"padding":0.4},"axis":{"labelExpr":"datum.value + '/' + (datum.value + 1)"}}},
   "layer":[
    {"encoding":{"y":{"field":"v","type":"quantitative","scale":{"domain":[0,9000],"nice":false},"axis":{"format":".2f","titleY":92,"values":[0,1000,2000,3000,4000,5000,6000,7000,8000,9000],"title":"Prescription rate of infections medications per 100,000 persons"}}},
     "layer":[
      {"transform":[{"filter":{"field":"k","oneOf":["e1","e2","e3"]}}],"mark":{"type":"line"},"encoding":{"color":{"field":"n","type":"nominal","scale":{"domain":["Antifungal Drugs","Anthelmintics","Antiviral Drugs"],"range":["#C0504D","#4BACC6","#9BBB59"]},"legend":{"title":null,"orient":"none","symbolType":"square","legendX":28,"legendY":220,"encode":{"symbols":{"update":{"strokeWidth":{"value":3}}}}}}}},
      {"transform":[{"filter":{"field":"k","oneOf":["e5"]}}],"mark":{"type":"line"},"encoding":{"stroke":{"field":"n","type":"nominal","scale":{"domain":["Antibacterial Drugs","Antiprotozoal Drugs"],"range":["#4F81BD","#8064A2"]},"legend":{"title":null,"orient":"none","symbolType":"square","legendX":102,"legendY":226,"encode":{"symbols":{"update":{"strokeWidth":{"value":3}}}}}}}}
     ]},
    {"transform":[{"filter":{"field":"k","oneOf":["e4"]}}],"mark":{"type":"line"},
     "encoding":{"y":{"field":"v","type":"quantitative","scale":{"domain":[0,90000],"nice":false},"axis":{"orient":"right","grid":false,"format":".2f","titleY":92,"titleAngle":270,"values":[0,10000,20000,30000,40000,50000,60000,70000,80000,90000],"title":"Prescription rate of antibacterial medications per 100,000 persons"}},
      "stroke":{"field":"n","type":"nominal","scale":{"domain":["Antibacterial Drugs","Antiprotozoal Drugs"],"range":["#4F81BD","#8064A2"]},"legend":{"title":null,"orient":"none","symbolType":"square","legendX":102,"legendY":226,"encode":{"symbols":{"update":{"strokeWidth":{"value":3}}}}}}}}
   ],
   "resolve":{"scale":{"y":"independent"}}},
  {"width":197,"height":140,"data":{"name":"f"},"transform":[{"lookup":"k","from":{"data":{"name":"nm"},"key":"k","fields":["n"]}}],
   "encoding":{"x":{"field":"t","type":"ordinal","title":"Year","scale":{"padding":0.3},"axis":{"labelExpr":"datum.value + '/' + (datum.value + 1)"}},
    "y":{"field":"v","type":"quantitative","scale":{"domain":[0,120000],"nice":false},"axis":{"format":".2f","titleY":82,"values":[0,20000,40000,60000,80000,100000,120000],"title":"Prescription rate of endocrine system medications per 100,000 persons"}}},
   "layer":[
    {"transform":[{"filter":{"field":"k","oneOf":["f1","f2","f3","f4"]}}],"mark":{"type":"line","interpolate":"monotone"},"encoding":{"color":{"field":"n","type":"nominal","scale":{"domain":["Sex hormones","Drugs affecting bone metabolism","Other endocrine drugs","Hypothalamic and pituitary hormones and anti-oestrogens"],"range":["#8064A2","#F79646","#2C4D75","#4BACC6"]},"legend":{"title":null,"orient":"none","symbolType":"square","legendX":-31,"legendY":210,"encode":{"symbols":{"update":{"strokeWidth":{"value":3}}}}}}}},
    {"transform":[{"filter":{"field":"k","oneOf":["f5","f6","f7"]}}],"mark":{"type":"line","interpolate":"monotone"},"encoding":{"stroke":{"field":"n","type":"nominal","scale":{"domain":["Drugs used in diabetes","Thyroid and antithyroid drugs","Corticosteroids"],"range":["#4F81BD","#C0504D","#9BBB59"]},"legend":{"title":null,"orient":"none","symbolType":"square","legendX":110,"legendY":210,"encode":{"symbols":{"update":{"strokeWidth":{"value":3}}}}}}}}
   ]}
 ]}
]},
{"spacing":8,"resolve":{"scale":{"color":"independent","stroke":"independent","x":"independent","y":"independent"}},"vconcat":[
{"bounds":"flush","spacing":52,"resolve":{"scale":{"color":"independent","stroke":"independent","x":"independent","y":"independent"}},"hconcat":[
 {"width":185,"height":176,"data":{"name":"g"},"transform":[{"lookup":"k","from":{"data":{"name":"nm"},"key":"k","fields":["n"]}}],
  "encoding":{"x":{"field":"t","type":"ordinal","title":"Year","scale":{"padding":0.3},"axis":{"labelExpr":"datum.value + '/' + (datum.value + 1)"}},
   "y":{"field":"v","type":"quantitative","scale":{"domain":[0,40000],"nice":false},"axis":{"format":".2f","titlePadding":13,"titleY":84,"values":[0,5000,10000,15000,20000,25000,30000,35000,40000],"title":"Prescription rate of obstetrics,gynae+urinary tract disorders medications per 100,000 persons"}}},
  "layer":[
   {"transform":[{"filter":{"field":"k","oneOf":["g1","g2"]}}],"mark":{"type":"line","interpolate":"monotone"},"encoding":{"color":{"field":"n","type":"nominal","scale":{"domain":["Contraceptives","Drugs for genito-urinary disorders"],"range":["#9BBB59","#8064A2"]},"legend":{"title":null,"orient":"none","symbolType":"square","legendX":-25,"legendY":219,"encode":{"symbols":{"update":{"strokeWidth":{"value":3}}}}}}}},
   {"transform":[{"filter":{"field":"k","oneOf":["g3","g4"]}}],"mark":{"type":"line","interpolate":"monotone"},"encoding":{"stroke":{"field":"n","type":"nominal","scale":{"domain":["Drugs used in obstetrics","Treatment of vaginal and vulval conditions"],"range":["#4F81BD","#C0504D"]},"legend":{"title":null,"orient":"none","symbolType":"square","legendX":79,"legendY":219,"encode":{"symbols":{"update":{"strokeWidth":{"value":3}}}}}}}}
  ]},
 {"width":218,"height":166,"data":{"name":"h"},"transform":[{"lookup":"k","from":{"data":{"name":"nm"},"key":"k","fields":["n"]}}],
  "mark":{"type":"line"},
  "encoding":{"x":{"field":"t","type":"ordinal","title":"Year","scale":{"padding":0.3},"axis":{"labelExpr":"datum.value + '/' + (datum.value + 1)"}},
   "y":{"field":"v","type":"quantitative","scale":{"domain":[0,6000],"nice":false},"axis":{"format":".2f","titleY":94,"values":[0,1000,2000,3000,4000,5000,6000],"title":"Prescription rate of malignant disease & immunosuppression medications per 100,000 persons"}},
   "color":{"field":"n","type":"nominal","scale":{"domain":["Cytotoxic drugs","Drugs affecting the immune response","Sex hormones and hormone antagonists in malignant disease"],"range":["#4F81BD","#C0504D","#9BBB59"]},"legend":{"title":null,"orient":"none","symbolType":"square","legendX":20,"legendY":210,"encode":{"symbols":{"update":{"strokeWidth":{"value":3}}}}}}}},
 {"width":207,"height":134,"data":{"name":"i"},"transform":[{"lookup":"k","from":{"data":{"name":"nm"},"key":"k","fields":["n"]}}],
  "encoding":{"x":{"field":"t","type":"ordinal","title":"Year","scale":{"padding":0.3},"axis":{"labelExpr":"datum.value + '/' + (datum.value + 1)"}},
   "y":{"field":"v","type":"quantitative","scale":{"domain":[0,60000],"nice":false},"axis":{"format":".2f","titleY":69,"values":[0,10000,20000,30000,40000,50000,60000],"title":"Prescription rate of nutrition and blood per 100,000 persons"}}},
  "layer":[
   {"transform":[{"filter":{"field":"k","oneOf":["i1","i2","i3","i4","i5","i6"]}}],"mark":{"type":"line"},"encoding":{"color":{"field":"n","type":"nominal","scale":{"domain":["Anaemias and some other blood disorders","Oral nutrition","Bitters and tonics","Compound Vit/Mineral Formulations","Fluids and electrolytes","Minerals"],"range":["#4F81BD","#8064A2","#2C4D75","#4D3B62","#C0504D","#4BACC6"]},"legend":{"title":null,"orient":"none","symbolType":"square","legendX":-25,"legendY":181,"encode":{"symbols":{"update":{"strokeWidth":{"value":3}}}}}}}},
   {"transform":[{"filter":{"field":"k","oneOf":["i7","i8","i9","i10","i11","i12"]}}],"mark":{"type":"line"},"encoding":{"stroke":{"field":"n","type":"nominal","scale":{"domain":["Metabolic disorders","Health Supplements","Intravenous nutrition","Vitamins","Foods","Other Health Supplements"],"range":["#772C2A","#276A7C","#AFC97A","#F79646","#5F7530","#B65708"]},"legend":{"title":null,"orient":"none","symbolType":"square","legendX":132,"legendY":181,"encode":{"symbols":{"update":{"strokeWidth":{"value":3}}}}}}}}
  ]}
]},
{"spacing":47,"resolve":{"scale":{"color":"independent","stroke":"independent","x":"independent","y":"independent"}},"vconcat":[
{"bounds":"flush","spacing":42,"resolve":{"scale":{"color":"independent","stroke":"independent","x":"independent","y":"independent"}},"hconcat":[
 {"width":186,"height":145,"data":{"name":"j"},"transform":[{"lookup":"k","from":{"data":{"name":"nm"},"key":"k","fields":["n"]}}],
  "mark":{"type":"line"},
  "encoding":{"x":{"field":"t","type":"ordinal","title":"Year","scale":{"padding":0.3},"axis":{"labelExpr":"datum.value + '/' + (datum.value + 1)"}},
   "y":{"field":"v","type":"quantitative","scale":{"domain":[0,60000],"nice":false},"axis":{"format":".2f","titleY":83,"values":[0,10000,20000,30000,40000,50000,60000],"title":"Prescription rate of musculoskeletal & joint diseases medications per 100,000 persons"}},
   "color":{"field":"n","type":"nominal","scale":{"domain":["Drugs used in rheumatic diseases and gout","Drugs used in neuromuscular disorders","Drugs for the relief of soft-tissue inflammation"],"range":["#4F81BD","#C0504D","#9BBB59"]},"legend":{"title":null,"orient":"none","symbolType":"square","legendX":20,"legendY":204,"encode":{"symbols":{"update":{"strokeWidth":{"value":3}}}}}}}},
 {"width":233,"height":145,"data":{"name":"k"},"transform":[{"lookup":"k","from":{"data":{"name":"nm"},"key":"k","fields":["n"]}}],
  "encoding":{"x":{"field":"t","type":"ordinal","title":"Year","scale":{"padding":0.3},"axis":{"labelExpr":"datum.value + '/' + (datum.value + 1)"}},
   "y":{"field":"v","type":"quantitative","scale":{"domain":[0,18000],"nice":false},"axis":{"format":".2f","titleY":73,"values":[0,2000,4000,6000,8000,10000,12000,14000,16000,18000],"title":"Prescription rate of eye medications per 100,000 persons"}}},
  "layer":[
   {"transform":[{"filter":{"field":"k","oneOf":["k1","k2","k3","k4"]}}],"mark":{"type":"line"},"encoding":{"color":{"field":"n","type":"nominal","scale":{"domain":["Anti-infective eye preparations","Orticosteroids and other anti inflammatory preparations","Mydriatics and cycloplegics","Treatment of glaucoma"],"range":["#4F81BD","#C0504D","#9BBB59","#8064A2"]},"legend":{"title":null,"orient":"none","symbolType":"square","legendX":-15,"legendY":193,"encode":{"symbols":{"update":{"strokeWidth":{"value":3}}}}}}}},
   {"transform":[{"filter":{"field":"k","oneOf":["k5","k6","k7"]}}],"mark":{"type":"line"},"encoding":{"stroke":{"field":"n","type":"nominal","scale":{"domain":["Local anaesthetics","Miscellaneous ophthalmic preparations","Contact lenses"],"range":["#4BACC6","#F79646","#2C4D75"]},"legend":{"title":null,"orient":"none","symbolType":"square","legendX":137,"legendY":197,"encode":{"symbols":{"update":{"strokeWidth":{"value":3}}}}}}}}
  ]},
 {"width":215,"height":145,"data":{"name":"l"},"transform":[{"lookup":"k","from":{"data":{"name":"nm"},"key":"k","fields":["n"]}}],
  "mark":{"type":"line"},
  "encoding":{"x":{"field":"t","type":"ordinal","title":"Year","scale":{"padding":0.3},"axis":{"labelExpr":"datum.value + '/' + (datum.value + 1)"}},
   "y":{"field":"v","type":"quantitative","scale":{"domain":[0,18000],"nice":false},"axis":{"format":".2f","titleY":74,"values":[0,2000,4000,6000,8000,10000,12000,14000,16000,18000],"title":"Prescription rate of ear, nose and oropharynx medications per 100,000 persons"}},
   "color":{"field":"n","type":"nominal","scale":{"domain":["Drugs acting on the ear","Drugs acting on the nose","Drugs acting on the oropharynx"],"range":["#4F81BD","#C0504D","#9BBB59"]},"legend":{"title":null,"orient":"none","symbolType":"square","legendX":62,"legendY":204,"encode":{"symbols":{"update":{"strokeWidth":{"value":3}}}}}}}}
]},
{"spacing":21,"resolve":{"scale":{"color":"independent","stroke":"independent","x":"independent","y":"independent"}},"vconcat":[
{"bounds":"flush","spacing":160,"resolve":{"scale":{"color":"independent","stroke":"independent","x":"independent","y":"independent"}},"hconcat":[
 {"width":284,"height":172,"data":{"name":"m"},"transform":[{"lookup":"k","from":{"data":{"name":"nm"},"key":"k","fields":["n"]}}],
  "encoding":{"x":{"field":"t","type":"ordinal","title":"Year","scale":{"padding":0.3},"axis":{"labelExpr":"datum.value + '/' + (datum.value + 1)","labelFontSize":5.5,"titleFontSize":6.5,"labelAngle":-60}}},
  "layer":[
   {"transform":[{"filter":{"field":"k","oneOf":["m1"]}}],"mark":{"type":"line"},
    "encoding":{"y":{"field":"v","type":"quantitative","scale":{"domain":[0,35000],"nice":false},"axis":{"format":".2f","labelFontSize":6,"titleFontSize":6,"titleY":87,"values":[0,5000,10000,15000,20000,25000,30000,35000],"title":"Prescription rate of vaccines and antisera per 100,000 persons"}},
     "color":{"field":"n","type":"nominal","scale":{"domain":["Vaccines and antisera"],"range":["#4F81BD"]},"legend":{"title":null,"orient":"none","symbolType":"square","legendX":53,"legendY":229,"labelFontSize":7,"symbolSize":4,"encode":{"symbols":{"update":{"strokeWidth":{"value":3.5}}}}}}}},
   {"transform":[{"filter":{"field":"k","oneOf":["m2"]}}],"mark":{"type":"line"},
    "encoding":{"y":{"field":"v","type":"quantitative","scale":{"domain":[0,8],"nice":false},"axis":{"orient":"right","grid":false,"format":".2f","labelFontSize":6,"titleFontSize":6,"titleAngle":270,"titleY":87,"values":[0,1,2,3,4,5,6,7,8],"title":"Prescription rate of Immunoglobulins per 100,000 persons"}},
     "stroke":{"field":"n","type":"nominal","scale":{"domain":["Immunoglobulins"],"range":["#C0504D"]},"legend":{"title":null,"orient":"none","symbolType":"square","legendX":171,"legendY":229,"labelFontSize":7,"symbolSize":4,"encode":{"symbols":{"update":{"strokeWidth":{"value":3.5}}}}}}}}
  ],
  "resolve":{"scale":{"y":"independent"}}},
 {"width":188,"height":167,"data":{"name":"n"},"transform":[{"lookup":"k","from":{"data":{"name":"nm"},"key":"k","fields":["n"]}}],
  "encoding":{"x":{"field":"t","type":"ordinal","title":"Year","scale":{"padding":0.3},"axis":{"labelExpr":"datum.value + '/' + (datum.value + 1)","labelFontSize":4,"titleFontSize":6.5}},
   "y":{"field":"v","type":"quantitative","scale":{"domain":[0,3000],"nice":false},"axis":{"format":".2f","labelFontSize":5.5,"titleFontSize":6,"titleY":83,"values":[0,500,1000,1500,2000,2500,3000],"title":"Prescription rate of anaesthesia per 100,000 persons"}}},
  "layer":[
   {"transform":[{"filter":{"field":"k","oneOf":["n1"]}}],"mark":{"type":"line"},"encoding":{"color":{"field":"n","type":"nominal","scale":{"domain":["General anaesthesia"],"range":["#4F81BD"]},"legend":{"title":null,"orient":"none","symbolType":"square","legendX":-10,"legendY":228,"labelFontSize":7,"symbolSize":4,"encode":{"symbols":{"update":{"strokeWidth":{"value":3.5}}}}}}}},
   {"transform":[{"filter":{"field":"k","oneOf":["n2"]}}],"mark":{"type":"line"},"encoding":{"stroke":{"field":"n","type":"nominal","scale":{"domain":["Local anaesthesia"],"range":["#C0504D"]},"legend":{"title":null,"orient":"none","symbolType":"square","legendX":106,"legendY":228,"labelFontSize":7,"symbolSize":4,"encode":{"symbols":{"update":{"strokeWidth":{"value":3.5}}}}}}}}
  ]}
]},
{"width":429,"height":198,"data":{"name":"o"},"transform":[{"lookup":"k","from":{"data":{"name":"nm"},"key":"k","fields":["n"]}}],
 "mark":{"type":"line"},
 "encoding":{"x":{"field":"t","type":"ordinal","title":"Year","scale":{"padding":0.3},"axis":{"labelExpr":"datum.value + '/' + (datum.value + 1)","labelFontSize":5.5,"titleFontSize":6.5,"labelAngle":-60}},
  "y":{"field":"v","type":"quantitative","scale":{"domain":[0,35000],"nice":false},"axis":{"format":".2f","labelFontSize":6,"titleFontSize":6.5,"titleY":101,"values":[0,5000,10000,15000,20000,25000,30000,35000],"title":"Prescription rate of skin medications per 100,000 persons"}},
  "color":{"field":"n","type":"nominal","scale":{"domain":["Vehicles and emulsifying agents","Topical corticosteroids","Preparations for warts and calluses","Anti-infective skin preparations","Wound management products","Emollient and barrier preparations","Preparations for eczema and psoriasis","Sunscreens and camouflagers","Skin cleansers and antiseptics","Topical circulatory preparations","Topical local anaesthetics and antipruritics","Acne and rosacea","Shampoo and other preparations for scalp conditions","Antiperspirants","Miscellaneous topical preparations"],"range":["#4F81BD","#8064A2","#2C4D75","#4D3B62","#729ACA","#C0504D","#4BACC6","#772C2A","#276A7C","#CD7371","#9BBB59","#F79646","#5F7530","#B65708","#C3D69B"]},"legend":{"title":null,"orient":"none","symbolType":"square","legendX":478,"legendY":23,"labelFontSize":7,"rowPadding":4.8,"symbolSize":4,"encode":{"symbols":{"update":{"strokeWidth":{"value":3.5}}}}}}}}
]}
]}
]}
]}
]
}
